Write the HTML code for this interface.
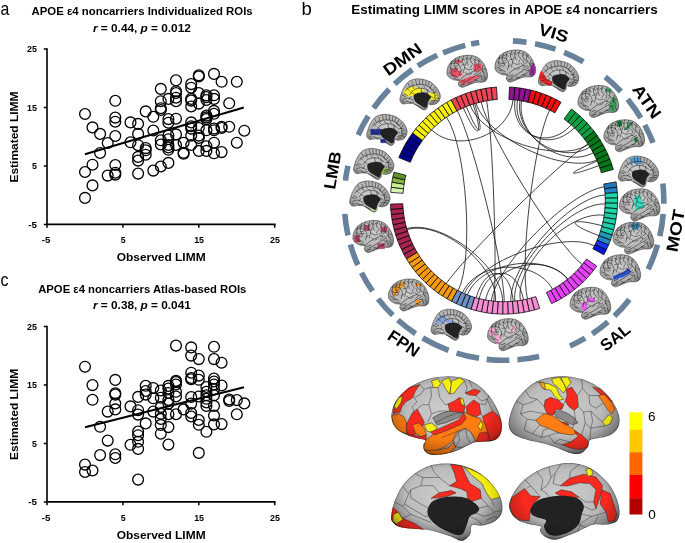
<!DOCTYPE html>
<html><head><meta charset="utf-8"><title>figure</title>
<style>html,body{margin:0;padding:0;background:#fff;}svg{display:block;will-change:transform;}</style>
</head><body>
<svg width="685" height="543" viewBox="0 0 685 543" font-family='"Liberation Sans", sans-serif'>
<rect width="685" height="543" fill="#fff"/>
<path d="M47.0,48.3 V224.4 H275.6" fill="none" stroke="#000" stroke-width="1.6"/>
<text x="36.90" y="52.40" font-size="9.8" font-weight="bold" text-anchor="end" fill="#000" textLength="9.90" lengthAdjust="spacingAndGlyphs">25</text>
<text x="36.90" y="110.87" font-size="9.8" font-weight="bold" text-anchor="end" fill="#000" textLength="9.90" lengthAdjust="spacingAndGlyphs">15</text>
<text x="36.90" y="169.33" font-size="9.8" font-weight="bold" text-anchor="end" fill="#000" textLength="4.90" lengthAdjust="spacingAndGlyphs">5</text>
<text x="36.90" y="227.80" font-size="9.8" font-weight="bold" text-anchor="end" fill="#000" textLength="8.70" lengthAdjust="spacingAndGlyphs">-5</text>
<text x="46.00" y="243.00" font-size="9.8" font-weight="bold" text-anchor="middle" fill="#000" textLength="8.70" lengthAdjust="spacingAndGlyphs">-5</text>
<text x="123.20" y="243.00" font-size="9.8" font-weight="bold" text-anchor="middle" fill="#000" textLength="4.90" lengthAdjust="spacingAndGlyphs">5</text>
<text x="199.10" y="243.00" font-size="9.8" font-weight="bold" text-anchor="middle" fill="#000" textLength="9.90" lengthAdjust="spacingAndGlyphs">15</text>
<text x="275.00" y="243.00" font-size="9.8" font-weight="bold" text-anchor="middle" fill="#000" textLength="9.90" lengthAdjust="spacingAndGlyphs">25</text>
<path d="M43.8,49.0 H47.0 M43.8,107.5 H47.0 M43.8,165.9 H47.0 M43.8,224.4 H47.0 M47.0,224.4 V227.7 M122.9,224.4 V227.7 M198.8,224.4 V227.7 M274.7,224.4 V227.7 " stroke="#000" stroke-width="1.5" fill="none"/>
<text x="116.70" y="261.20" font-size="11.8" font-weight="bold" text-anchor="start" fill="#000" textLength="88.90" lengthAdjust="spacingAndGlyphs">Observed LIMM</text>
<text font-size="11.8" font-weight="bold" text-anchor="middle" textLength="91.0" lengthAdjust="spacingAndGlyphs" transform="translate(18.0 137.0) rotate(-90)">Estimated LIMM</text>
<g fill="none" stroke="#000" stroke-width="1.3">
<circle cx="85.0" cy="114.0" r="5.4"/>
<circle cx="85.0" cy="172.0" r="5.4"/>
<circle cx="85.0" cy="197.9" r="5.4"/>
<circle cx="92.5" cy="127.4" r="5.4"/>
<circle cx="92.5" cy="164.7" r="5.4"/>
<circle cx="92.5" cy="185.4" r="5.4"/>
<circle cx="100.1" cy="133.9" r="5.4"/>
<circle cx="100.1" cy="153.0" r="5.4"/>
<circle cx="107.7" cy="143.0" r="5.4"/>
<circle cx="107.7" cy="175.6" r="5.4"/>
<circle cx="115.3" cy="100.8" r="5.4"/>
<circle cx="115.3" cy="117.6" r="5.4"/>
<circle cx="115.3" cy="121.7" r="5.4"/>
<circle cx="115.3" cy="136.0" r="5.4"/>
<circle cx="115.3" cy="165.0" r="5.4"/>
<circle cx="115.3" cy="172.7" r="5.4"/>
<circle cx="115.3" cy="174.6" r="5.4"/>
<circle cx="130.5" cy="122.4" r="5.4"/>
<circle cx="130.5" cy="142.3" r="5.4"/>
<circle cx="138.1" cy="123.9" r="5.4"/>
<circle cx="138.1" cy="133.9" r="5.4"/>
<circle cx="138.1" cy="145.2" r="5.4"/>
<circle cx="138.1" cy="156.9" r="5.4"/>
<circle cx="138.1" cy="160.6" r="5.4"/>
<circle cx="138.1" cy="173.6" r="5.4"/>
<circle cx="145.7" cy="111.4" r="5.4"/>
<circle cx="145.7" cy="148.1" r="5.4"/>
<circle cx="145.7" cy="150.3" r="5.4"/>
<circle cx="145.7" cy="154.7" r="5.4"/>
<circle cx="153.3" cy="116.8" r="5.4"/>
<circle cx="153.3" cy="130.5" r="5.4"/>
<circle cx="153.3" cy="170.6" r="5.4"/>
<circle cx="160.8" cy="88.9" r="5.4"/>
<circle cx="160.8" cy="101.2" r="5.4"/>
<circle cx="160.8" cy="108.2" r="5.4"/>
<circle cx="160.8" cy="110.0" r="5.4"/>
<circle cx="160.8" cy="140.3" r="5.4"/>
<circle cx="160.8" cy="144.5" r="5.4"/>
<circle cx="160.8" cy="166.5" r="5.4"/>
<circle cx="168.4" cy="98.9" r="5.4"/>
<circle cx="168.4" cy="119.1" r="5.4"/>
<circle cx="168.4" cy="122.7" r="5.4"/>
<circle cx="168.4" cy="135.6" r="5.4"/>
<circle cx="168.4" cy="139.2" r="5.4"/>
<circle cx="168.4" cy="145.0" r="5.4"/>
<circle cx="168.4" cy="147.4" r="5.4"/>
<circle cx="168.4" cy="149.8" r="5.4"/>
<circle cx="168.4" cy="162.9" r="5.4"/>
<circle cx="176.0" cy="80.3" r="5.4"/>
<circle cx="176.0" cy="91.2" r="5.4"/>
<circle cx="176.0" cy="93.0" r="5.4"/>
<circle cx="176.0" cy="97.7" r="5.4"/>
<circle cx="176.0" cy="101.2" r="5.4"/>
<circle cx="176.0" cy="118.7" r="5.4"/>
<circle cx="176.0" cy="134.4" r="5.4"/>
<circle cx="176.0" cy="145.0" r="5.4"/>
<circle cx="183.6" cy="142.7" r="5.4"/>
<circle cx="183.6" cy="152.8" r="5.4"/>
<circle cx="183.6" cy="153.8" r="5.4"/>
<circle cx="191.2" cy="84.1" r="5.4"/>
<circle cx="191.2" cy="87.7" r="5.4"/>
<circle cx="191.2" cy="98.9" r="5.4"/>
<circle cx="191.2" cy="100.6" r="5.4"/>
<circle cx="191.2" cy="106.5" r="5.4"/>
<circle cx="191.2" cy="122.4" r="5.4"/>
<circle cx="191.2" cy="126.2" r="5.4"/>
<circle cx="191.2" cy="128.6" r="5.4"/>
<circle cx="191.2" cy="135.6" r="5.4"/>
<circle cx="191.2" cy="145.0" r="5.4"/>
<circle cx="198.8" cy="75.3" r="5.4"/>
<circle cx="198.8" cy="76.5" r="5.4"/>
<circle cx="198.8" cy="93.0" r="5.4"/>
<circle cx="198.8" cy="103.6" r="5.4"/>
<circle cx="198.8" cy="128.0" r="5.4"/>
<circle cx="198.8" cy="135.6" r="5.4"/>
<circle cx="198.8" cy="138.0" r="5.4"/>
<circle cx="198.8" cy="150.9" r="5.4"/>
<circle cx="206.4" cy="95.3" r="5.4"/>
<circle cx="206.4" cy="97.1" r="5.4"/>
<circle cx="206.4" cy="100.0" r="5.4"/>
<circle cx="206.4" cy="115.6" r="5.4"/>
<circle cx="206.4" cy="117.4" r="5.4"/>
<circle cx="206.4" cy="119.1" r="5.4"/>
<circle cx="206.4" cy="130.3" r="5.4"/>
<circle cx="206.4" cy="146.2" r="5.4"/>
<circle cx="206.4" cy="150.9" r="5.4"/>
<circle cx="214.0" cy="73.9" r="5.4"/>
<circle cx="214.0" cy="95.3" r="5.4"/>
<circle cx="214.0" cy="98.9" r="5.4"/>
<circle cx="214.0" cy="110.9" r="5.4"/>
<circle cx="214.0" cy="113.8" r="5.4"/>
<circle cx="214.0" cy="128.6" r="5.4"/>
<circle cx="214.0" cy="130.3" r="5.4"/>
<circle cx="214.0" cy="142.7" r="5.4"/>
<circle cx="214.0" cy="153.3" r="5.4"/>
<circle cx="221.6" cy="81.8" r="5.4"/>
<circle cx="221.6" cy="126.8" r="5.4"/>
<circle cx="221.6" cy="128.0" r="5.4"/>
<circle cx="221.6" cy="152.1" r="5.4"/>
<circle cx="229.2" cy="103.3" r="5.4"/>
<circle cx="229.2" cy="126.8" r="5.4"/>
<circle cx="236.8" cy="81.8" r="5.4"/>
<circle cx="236.8" cy="142.7" r="5.4"/>
<circle cx="244.3" cy="130.7" r="5.4"/>
</g>
<path d="M84.9,154.3 L243.8,107.6" stroke="#000" stroke-width="2.1" fill="none"/>
<text x="31.50" y="14.60" font-size="11.8" font-weight="bold" text-anchor="start" fill="#000" textLength="221.20" lengthAdjust="spacingAndGlyphs">APOE ε4 noncarriers Individualized ROIs</text>
<text x="93" y="31.5" font-size="11.8" font-weight="bold" textLength="97.8" lengthAdjust="spacingAndGlyphs"><tspan font-style="italic">r</tspan> = 0.44, <tspan font-style="italic">p</tspan> = 0.012</text>
<text x="0.60" y="15.00" font-size="18.5" font-weight="normal" text-anchor="start" fill="#000" textLength="8.80" lengthAdjust="spacingAndGlyphs">a</text>
<path d="M47.0,325.7 V501.9 H275.6" fill="none" stroke="#000" stroke-width="1.6"/>
<text x="36.90" y="329.80" font-size="9.8" font-weight="bold" text-anchor="end" fill="#000" textLength="9.90" lengthAdjust="spacingAndGlyphs">25</text>
<text x="36.90" y="388.30" font-size="9.8" font-weight="bold" text-anchor="end" fill="#000" textLength="9.90" lengthAdjust="spacingAndGlyphs">15</text>
<text x="36.90" y="446.80" font-size="9.8" font-weight="bold" text-anchor="end" fill="#000" textLength="4.90" lengthAdjust="spacingAndGlyphs">5</text>
<text x="36.90" y="505.30" font-size="9.8" font-weight="bold" text-anchor="end" fill="#000" textLength="8.70" lengthAdjust="spacingAndGlyphs">-5</text>
<text x="46.00" y="520.50" font-size="9.8" font-weight="bold" text-anchor="middle" fill="#000" textLength="8.70" lengthAdjust="spacingAndGlyphs">-5</text>
<text x="123.20" y="520.50" font-size="9.8" font-weight="bold" text-anchor="middle" fill="#000" textLength="4.90" lengthAdjust="spacingAndGlyphs">5</text>
<text x="199.10" y="520.50" font-size="9.8" font-weight="bold" text-anchor="middle" fill="#000" textLength="9.90" lengthAdjust="spacingAndGlyphs">15</text>
<text x="275.00" y="520.50" font-size="9.8" font-weight="bold" text-anchor="middle" fill="#000" textLength="9.90" lengthAdjust="spacingAndGlyphs">25</text>
<path d="M43.8,326.4 H47.0 M43.8,384.9 H47.0 M43.8,443.4 H47.0 M43.8,501.9 H47.0 M47.0,501.9 V505.2 M122.9,501.9 V505.2 M198.8,501.9 V505.2 M274.7,501.9 V505.2 " stroke="#000" stroke-width="1.5" fill="none"/>
<text x="116.70" y="538.70" font-size="11.8" font-weight="bold" text-anchor="start" fill="#000" textLength="88.90" lengthAdjust="spacingAndGlyphs">Observed LIMM</text>
<text font-size="11.8" font-weight="bold" text-anchor="middle" textLength="91.0" lengthAdjust="spacingAndGlyphs" transform="translate(18.0 414.4) rotate(-90)">Estimated LIMM</text>
<g fill="none" stroke="#000" stroke-width="1.3">
<circle cx="85.0" cy="366.7" r="5.4"/>
<circle cx="85.0" cy="464.6" r="5.4"/>
<circle cx="85.0" cy="472.0" r="5.4"/>
<circle cx="92.5" cy="385.1" r="5.4"/>
<circle cx="92.5" cy="399.8" r="5.4"/>
<circle cx="92.5" cy="470.5" r="5.4"/>
<circle cx="100.1" cy="426.8" r="5.4"/>
<circle cx="100.1" cy="455.1" r="5.4"/>
<circle cx="107.7" cy="411.6" r="5.4"/>
<circle cx="107.7" cy="440.6" r="5.4"/>
<circle cx="115.3" cy="379.9" r="5.4"/>
<circle cx="115.3" cy="393.2" r="5.4"/>
<circle cx="115.3" cy="394.6" r="5.4"/>
<circle cx="115.3" cy="403.5" r="5.4"/>
<circle cx="115.3" cy="409.4" r="5.4"/>
<circle cx="115.3" cy="454.3" r="5.4"/>
<circle cx="115.3" cy="458.0" r="5.4"/>
<circle cx="130.5" cy="406.4" r="5.4"/>
<circle cx="130.5" cy="444.8" r="5.4"/>
<circle cx="138.1" cy="396.9" r="5.4"/>
<circle cx="138.1" cy="410.2" r="5.4"/>
<circle cx="138.1" cy="414.6" r="5.4"/>
<circle cx="138.1" cy="431.5" r="5.4"/>
<circle cx="138.1" cy="435.2" r="5.4"/>
<circle cx="138.1" cy="441.8" r="5.4"/>
<circle cx="138.1" cy="448.9" r="5.4"/>
<circle cx="138.1" cy="479.6" r="5.4"/>
<circle cx="145.7" cy="385.8" r="5.4"/>
<circle cx="145.7" cy="391.0" r="5.4"/>
<circle cx="145.7" cy="394.6" r="5.4"/>
<circle cx="145.7" cy="423.4" r="5.4"/>
<circle cx="153.3" cy="388.0" r="5.4"/>
<circle cx="153.3" cy="398.3" r="5.4"/>
<circle cx="153.3" cy="411.6" r="5.4"/>
<circle cx="160.8" cy="390.5" r="5.4"/>
<circle cx="160.8" cy="397.7" r="5.4"/>
<circle cx="160.8" cy="407.0" r="5.4"/>
<circle cx="160.8" cy="413.8" r="5.4"/>
<circle cx="160.8" cy="418.9" r="5.4"/>
<circle cx="160.8" cy="424.9" r="5.4"/>
<circle cx="160.8" cy="433.7" r="5.4"/>
<circle cx="168.4" cy="385.9" r="5.4"/>
<circle cx="168.4" cy="388.6" r="5.4"/>
<circle cx="168.4" cy="393.0" r="5.4"/>
<circle cx="168.4" cy="400.0" r="5.4"/>
<circle cx="168.4" cy="403.6" r="5.4"/>
<circle cx="168.4" cy="414.2" r="5.4"/>
<circle cx="168.4" cy="427.1" r="5.4"/>
<circle cx="168.4" cy="444.6" r="5.4"/>
<circle cx="176.0" cy="345.6" r="5.4"/>
<circle cx="176.0" cy="380.9" r="5.4"/>
<circle cx="176.0" cy="382.1" r="5.4"/>
<circle cx="176.0" cy="384.5" r="5.4"/>
<circle cx="176.0" cy="391.8" r="5.4"/>
<circle cx="176.0" cy="396.5" r="5.4"/>
<circle cx="176.0" cy="414.2" r="5.4"/>
<circle cx="183.6" cy="409.4" r="5.4"/>
<circle cx="191.2" cy="347.4" r="5.4"/>
<circle cx="191.2" cy="355.6" r="5.4"/>
<circle cx="191.2" cy="372.7" r="5.4"/>
<circle cx="191.2" cy="378.0" r="5.4"/>
<circle cx="191.2" cy="379.2" r="5.4"/>
<circle cx="191.2" cy="397.0" r="5.4"/>
<circle cx="191.2" cy="403.6" r="5.4"/>
<circle cx="191.2" cy="413.0" r="5.4"/>
<circle cx="191.2" cy="416.5" r="5.4"/>
<circle cx="198.8" cy="359.1" r="5.4"/>
<circle cx="198.8" cy="375.6" r="5.4"/>
<circle cx="198.8" cy="379.8" r="5.4"/>
<circle cx="198.8" cy="396.5" r="5.4"/>
<circle cx="198.8" cy="420.0" r="5.4"/>
<circle cx="198.8" cy="424.8" r="5.4"/>
<circle cx="198.8" cy="452.9" r="5.4"/>
<circle cx="206.4" cy="387.0" r="5.4"/>
<circle cx="206.4" cy="391.8" r="5.4"/>
<circle cx="206.4" cy="395.3" r="5.4"/>
<circle cx="206.4" cy="398.8" r="5.4"/>
<circle cx="206.4" cy="402.4" r="5.4"/>
<circle cx="206.4" cy="405.9" r="5.4"/>
<circle cx="206.4" cy="431.8" r="5.4"/>
<circle cx="214.0" cy="346.8" r="5.4"/>
<circle cx="214.0" cy="359.1" r="5.4"/>
<circle cx="214.0" cy="378.6" r="5.4"/>
<circle cx="214.0" cy="381.5" r="5.4"/>
<circle cx="214.0" cy="384.5" r="5.4"/>
<circle cx="214.0" cy="389.2" r="5.4"/>
<circle cx="214.0" cy="395.3" r="5.4"/>
<circle cx="214.0" cy="405.9" r="5.4"/>
<circle cx="214.0" cy="415.5" r="5.4"/>
<circle cx="214.0" cy="424.4" r="5.4"/>
<circle cx="221.6" cy="362.7" r="5.4"/>
<circle cx="221.6" cy="385.5" r="5.4"/>
<circle cx="221.6" cy="424.1" r="5.4"/>
<circle cx="229.2" cy="399.5" r="5.4"/>
<circle cx="229.2" cy="401.0" r="5.4"/>
<circle cx="236.8" cy="400.1" r="5.4"/>
<circle cx="236.8" cy="414.3" r="5.4"/>
<circle cx="244.3" cy="403.4" r="5.4"/>
</g>
<path d="M85.0,427.3 L244.0,387.2" stroke="#000" stroke-width="2.1" fill="none"/>
<text x="38.20" y="292.50" font-size="11.8" font-weight="bold" text-anchor="start" fill="#000" textLength="208.20" lengthAdjust="spacingAndGlyphs">APOE ε4 noncarriers Atlas-based ROIs</text>
<text x="93" y="308.6" font-size="11.8" font-weight="bold" textLength="97.8" lengthAdjust="spacingAndGlyphs"><tspan font-style="italic">r</tspan> = 0.38, <tspan font-style="italic">p</tspan> = 0.041</text>
<text x="0.60" y="285.80" font-size="18.5" font-weight="normal" text-anchor="start" fill="#000" textLength="8.00" lengthAdjust="spacingAndGlyphs">c</text>
<text x="301.60" y="15.20" font-size="18.5" font-weight="normal" text-anchor="start" fill="#000">b</text>
<text x="351.20" y="13.70" font-size="12.4" font-weight="bold" text-anchor="start" fill="#000" textLength="306.60" lengthAdjust="spacingAndGlyphs">Estimating LIMM scores in APOE ε4 noncarriers</text>
<path d="M345.4,180.7 A159.8,159.8 0 0 1 348.0,165.9 M358.2,135.0 A159.8,159.8 0 0 1 368.3,116.1 M373.6,108.2 A159.8,159.8 0 0 1 389.2,89.3 M394.6,84.0 A159.8,159.8 0 0 1 412.3,69.6 M417.9,65.9 A159.8,159.8 0 0 1 437.2,55.3 M443.1,52.8 A159.8,159.8 0 0 1 465.3,45.4 M471.0,44.1 A159.8,159.8 0 0 1 479.3,42.6 M512.9,40.9 A159.8,159.8 0 0 1 526.5,42.3 M535.0,43.7 A159.8,159.8 0 0 1 555.5,49.2 M564.1,52.4 A159.8,159.8 0 0 1 583.4,61.8 M605.2,76.8 A159.8,159.8 0 0 1 620.9,91.5 M627.7,99.3 A159.8,159.8 0 0 1 640.8,118.0 M644.8,125.0 A159.8,159.8 0 0 1 653.0,142.7 M662.9,183.5 A159.8,159.8 0 0 1 663.8,203.8 M663.2,214.1 A159.8,159.8 0 0 1 659.8,236.2 M657.5,244.8 A159.8,159.8 0 0 1 648.2,269.3 M629.4,299.5 A159.8,159.8 0 0 1 614.4,316.0 M608.0,321.8 A159.8,159.8 0 0 1 592.2,333.8 M585.1,338.2 A159.8,159.8 0 0 1 570.0,346.0 M539.1,356.4 A159.8,159.8 0 0 1 517.4,359.7 M509.3,360.2 A159.8,159.8 0 0 1 486.7,359.4 M479.0,358.3 A159.8,159.8 0 0 1 456.5,353.1 M448.6,350.4 A159.8,159.8 0 0 1 422.7,338.0 M415.6,333.6 A159.8,159.8 0 0 1 397.9,320.0 M392.8,315.3 A159.8,159.8 0 0 1 378.1,298.9 M372.5,291.2 A159.8,159.8 0 0 1 361.5,272.8 M357.8,265.0 A159.8,159.8 0 0 1 350.4,244.5 M348.0,235.4 A159.8,159.8 0 0 1 344.8,213.9 " fill="none" stroke="#68829b" stroke-width="5.6"/>
<g stroke="#000" stroke-width="0.75" stroke-linejoin="miter">
<path d="M509.5,87.0 A113.6,113.6 0 0 1 514.9,87.4 L513.8,99.8 A101.2,101.2 0 0 0 508.9,99.4 Z" fill="#8e1291"/>
<path d="M514.9,87.4 A113.6,113.6 0 0 1 520.3,88.1 L518.5,100.3 A101.2,101.2 0 0 0 513.8,99.8 Z" fill="#8e1291"/>
<path d="M520.3,88.1 A113.6,113.6 0 0 1 525.7,89.0 L523.3,101.2 A101.2,101.2 0 0 0 518.5,100.3 Z" fill="#8e1291"/>
<path d="M525.7,89.0 A113.6,113.6 0 0 1 530.9,90.1 L528.0,102.2 A101.2,101.2 0 0 0 523.3,101.2 Z" fill="#8e1291"/>
<path d="M530.9,90.1 A113.6,113.6 0 0 1 536.2,91.5 L532.7,103.4 A101.2,101.2 0 0 0 528.0,102.2 Z" fill="#f20d0d"/>
<path d="M536.2,91.5 A113.6,113.6 0 0 1 541.3,93.2 L537.2,104.9 A101.2,101.2 0 0 0 532.7,103.4 Z" fill="#f20d0d"/>
<path d="M541.3,93.2 A113.6,113.6 0 0 1 546.4,95.1 L541.8,106.6 A101.2,101.2 0 0 0 537.2,104.9 Z" fill="#f20d0d"/>
<path d="M546.4,95.1 A113.6,113.6 0 0 1 551.4,97.2 L546.2,108.5 A101.2,101.2 0 0 0 541.8,106.6 Z" fill="#f20d0d"/>
<path d="M551.4,97.2 A113.6,113.6 0 0 1 556.2,99.6 L550.5,110.6 A101.2,101.2 0 0 0 546.2,108.5 Z" fill="#f20d0d"/>
<path d="M556.2,99.6 A113.6,113.6 0 0 1 561.0,102.2 L554.8,112.9 A101.2,101.2 0 0 0 550.5,110.6 Z" fill="#f20d0d"/>
<path d="M571.4,109.1 A113.6,113.6 0 0 1 575.6,112.3 L567.8,122.0 A101.2,101.2 0 0 0 564.1,119.0 Z" fill="#0f9d42"/>
<path d="M575.6,112.3 A113.6,113.6 0 0 1 579.7,115.8 L571.4,125.0 A101.2,101.2 0 0 0 567.8,122.0 Z" fill="#0f9d42"/>
<path d="M579.7,115.8 A113.6,113.6 0 0 1 583.6,119.4 L574.9,128.3 A101.2,101.2 0 0 0 571.4,125.0 Z" fill="#0f9d42"/>
<path d="M583.6,119.4 A113.6,113.6 0 0 1 587.3,123.3 L578.2,131.7 A101.2,101.2 0 0 0 574.9,128.3 Z" fill="#0f9d42"/>
<path d="M587.3,123.3 A113.6,113.6 0 0 1 590.8,127.3 L581.4,135.3 A101.2,101.2 0 0 0 578.2,131.7 Z" fill="#0f9d42"/>
<path d="M590.8,127.3 A113.6,113.6 0 0 1 594.2,131.4 L584.3,139.0 A101.2,101.2 0 0 0 581.4,135.3 Z" fill="#0f9d42"/>
<path d="M594.2,131.4 A113.6,113.6 0 0 1 597.3,135.7 L587.2,142.8 A101.2,101.2 0 0 0 584.3,139.0 Z" fill="#067a18"/>
<path d="M597.3,135.7 A113.6,113.6 0 0 1 600.3,140.2 L589.8,146.8 A101.2,101.2 0 0 0 587.2,142.8 Z" fill="#067a18"/>
<path d="M600.3,140.2 A113.6,113.6 0 0 1 603.0,144.8 L592.2,150.9 A101.2,101.2 0 0 0 589.8,146.8 Z" fill="#067a18"/>
<path d="M603.0,144.8 A113.6,113.6 0 0 1 605.5,149.5 L594.4,155.1 A101.2,101.2 0 0 0 592.2,150.9 Z" fill="#067a18"/>
<path d="M605.5,149.5 A113.6,113.6 0 0 1 607.8,154.3 L596.5,159.4 A101.2,101.2 0 0 0 594.4,155.1 Z" fill="#067a18"/>
<path d="M607.8,154.3 A113.6,113.6 0 0 1 609.9,159.3 L598.3,163.8 A101.2,101.2 0 0 0 596.5,159.4 Z" fill="#067a18"/>
<path d="M609.9,159.3 A113.6,113.6 0 0 1 611.7,164.3 L599.9,168.2 A101.2,101.2 0 0 0 598.3,163.8 Z" fill="#067a18"/>
<path d="M611.7,164.3 A113.6,113.6 0 0 1 613.3,169.4 L601.3,172.8 A101.2,101.2 0 0 0 599.9,168.2 Z" fill="#067a18"/>
<path d="M616.1,181.9 A113.6,113.6 0 0 1 616.8,187.3 L604.5,188.7 A101.2,101.2 0 0 0 603.8,184.0 Z" fill="#2078bf"/>
<path d="M616.8,187.3 A113.6,113.6 0 0 1 617.3,192.6 L605.0,193.5 A101.2,101.2 0 0 0 604.5,188.7 Z" fill="#2584c8"/>
<path d="M617.3,192.6 A113.6,113.6 0 0 1 617.6,198.0 L605.2,198.2 A101.2,101.2 0 0 0 605.0,193.5 Z" fill="#1fd6ab"/>
<path d="M617.6,198.0 A113.6,113.6 0 0 1 617.6,203.3 L605.2,203.0 A101.2,101.2 0 0 0 605.2,198.2 Z" fill="#1fd6ab"/>
<path d="M617.6,203.3 A113.6,113.6 0 0 1 617.3,208.7 L604.9,207.8 A101.2,101.2 0 0 0 605.2,203.0 Z" fill="#1fd6ab"/>
<path d="M617.3,208.7 A113.6,113.6 0 0 1 616.8,214.0 L604.5,212.6 A101.2,101.2 0 0 0 604.9,207.8 Z" fill="#1fd6ab"/>
<path d="M616.8,214.0 A113.6,113.6 0 0 1 616.0,219.3 L603.8,217.3 A101.2,101.2 0 0 0 604.5,212.6 Z" fill="#1ccfa6"/>
<path d="M616.0,219.3 A113.6,113.6 0 0 1 615.0,224.6 L602.9,222.0 A101.2,101.2 0 0 0 603.8,217.3 Z" fill="#1ccfa6"/>
<path d="M615.0,224.6 A113.6,113.6 0 0 1 613.7,229.8 L601.8,226.6 A101.2,101.2 0 0 0 602.9,222.0 Z" fill="#1ccfa6"/>
<path d="M613.7,229.8 A113.6,113.6 0 0 1 612.2,235.0 L600.4,231.2 A101.2,101.2 0 0 0 601.8,226.6 Z" fill="#1ccfa6"/>
<path d="M612.2,235.0 A113.6,113.6 0 0 1 610.5,240.1 L598.9,235.7 A101.2,101.2 0 0 0 600.4,231.2 Z" fill="#1f9bb5"/>
<path d="M610.5,240.1 A113.6,113.6 0 0 1 608.5,245.0 L597.1,240.2 A101.2,101.2 0 0 0 598.9,235.7 Z" fill="#2389c2"/>
<path d="M608.5,245.0 A113.6,113.6 0 0 1 606.3,249.9 L595.1,244.5 A101.2,101.2 0 0 0 597.1,240.2 Z" fill="#1638f2"/>
<path d="M606.3,249.9 A113.6,113.6 0 0 1 603.8,254.7 L592.9,248.8 A101.2,101.2 0 0 0 595.1,244.5 Z" fill="#0414e4"/>
<path d="M596.7,266.1 A113.6,113.6 0 0 1 593.5,270.5 L583.7,262.8 A101.2,101.2 0 0 0 586.6,259.0 Z" fill="#e641f5"/>
<path d="M593.5,270.5 A113.6,113.6 0 0 1 590.1,274.6 L580.7,266.5 A101.2,101.2 0 0 0 583.7,262.8 Z" fill="#e641f5"/>
<path d="M590.1,274.6 A113.6,113.6 0 0 1 586.5,278.6 L577.5,270.1 A101.2,101.2 0 0 0 580.7,266.5 Z" fill="#e641f5"/>
<path d="M586.5,278.6 A113.6,113.6 0 0 1 582.7,282.5 L574.1,273.5 A101.2,101.2 0 0 0 577.5,270.1 Z" fill="#e641f5"/>
<path d="M582.7,282.5 A113.6,113.6 0 0 1 578.7,286.1 L570.5,276.8 A101.2,101.2 0 0 0 574.1,273.5 Z" fill="#e641f5"/>
<path d="M578.7,286.1 A113.6,113.6 0 0 1 574.5,289.5 L566.8,279.8 A101.2,101.2 0 0 0 570.5,276.8 Z" fill="#e641f5"/>
<path d="M574.5,289.5 A113.6,113.6 0 0 1 570.2,292.8 L563.0,282.7 A101.2,101.2 0 0 0 566.8,279.8 Z" fill="#e641f5"/>
<path d="M570.2,292.8 A113.6,113.6 0 0 1 565.8,295.8 L559.1,285.4 A101.2,101.2 0 0 0 563.0,282.7 Z" fill="#e641f5"/>
<path d="M565.8,295.8 A113.6,113.6 0 0 1 561.2,298.6 L555.0,287.9 A101.2,101.2 0 0 0 559.1,285.4 Z" fill="#e641f5"/>
<path d="M561.2,298.6 A113.6,113.6 0 0 1 556.5,301.2 L550.8,290.3 A101.2,101.2 0 0 0 555.0,287.9 Z" fill="#e641f5"/>
<path d="M556.5,301.2 A113.6,113.6 0 0 1 551.6,303.6 L546.4,292.4 A101.2,101.2 0 0 0 550.8,290.3 Z" fill="#e641f5"/>
<path d="M539.7,308.4 A113.6,113.6 0 0 1 534.5,309.9 L531.2,298.0 A101.2,101.2 0 0 0 535.8,296.6 Z" fill="#f58ed2"/>
<path d="M534.5,309.9 A113.6,113.6 0 0 1 529.3,311.2 L526.6,299.2 A101.2,101.2 0 0 0 531.2,298.0 Z" fill="#f58ed2"/>
<path d="M529.3,311.2 A113.6,113.6 0 0 1 524.1,312.3 L521.9,300.1 A101.2,101.2 0 0 0 526.6,299.2 Z" fill="#f58ed2"/>
<path d="M524.1,312.3 A113.6,113.6 0 0 1 518.8,313.1 L517.2,300.8 A101.2,101.2 0 0 0 521.9,300.1 Z" fill="#f58ed2"/>
<path d="M518.8,313.1 A113.6,113.6 0 0 1 513.4,313.7 L512.4,301.4 A101.2,101.2 0 0 0 517.2,300.8 Z" fill="#f58ed2"/>
<path d="M513.4,313.7 A113.6,113.6 0 0 1 508.1,314.0 L507.6,301.6 A101.2,101.2 0 0 0 512.4,301.4 Z" fill="#f58ed2"/>
<path d="M508.1,314.0 A113.6,113.6 0 0 1 502.7,314.1 L502.8,301.7 A101.2,101.2 0 0 0 507.6,301.6 Z" fill="#f58ed2"/>
<path d="M502.7,314.1 A113.6,113.6 0 0 1 497.3,313.9 L498.1,301.5 A101.2,101.2 0 0 0 502.8,301.7 Z" fill="#f58ed2"/>
<path d="M497.3,313.9 A113.6,113.6 0 0 1 492.0,313.5 L493.3,301.1 A101.2,101.2 0 0 0 498.1,301.5 Z" fill="#f58ed2"/>
<path d="M492.0,313.5 A113.6,113.6 0 0 1 486.7,312.8 L488.6,300.5 A101.2,101.2 0 0 0 493.3,301.1 Z" fill="#f58ed2"/>
<path d="M486.7,312.8 A113.6,113.6 0 0 1 481.4,311.8 L483.9,299.7 A101.2,101.2 0 0 0 488.6,300.5 Z" fill="#f58ed2"/>
<path d="M481.4,311.8 A113.6,113.6 0 0 1 476.1,310.6 L479.2,298.6 A101.2,101.2 0 0 0 483.9,299.7 Z" fill="#f58ed2"/>
<path d="M476.1,310.6 A113.6,113.6 0 0 1 471.0,309.2 L474.6,297.3 A101.2,101.2 0 0 0 479.2,298.6 Z" fill="#f58ed2"/>
<path d="M471.0,309.2 A113.6,113.6 0 0 1 466.0,307.6 L470.1,295.9 A101.2,101.2 0 0 0 474.6,297.3 Z" fill="#6d8fc4"/>
<path d="M466.0,307.6 A113.6,113.6 0 0 1 461.1,305.7 L465.8,294.2 A101.2,101.2 0 0 0 470.1,295.9 Z" fill="#6d8fc4"/>
<path d="M461.1,305.7 A113.6,113.6 0 0 1 456.3,303.6 L461.5,292.3 A101.2,101.2 0 0 0 465.8,294.2 Z" fill="#6d8fc4"/>
<path d="M456.3,303.6 A113.6,113.6 0 0 1 451.5,301.3 L457.3,290.3 A101.2,101.2 0 0 0 461.5,292.3 Z" fill="#6d8fc4"/>
<path d="M451.5,301.3 A113.6,113.6 0 0 1 447.0,298.7 L453.2,288.0 A101.2,101.2 0 0 0 457.3,290.3 Z" fill="#f59a12"/>
<path d="M447.0,298.7 A113.6,113.6 0 0 1 442.5,296.0 L449.2,285.6 A101.2,101.2 0 0 0 453.2,288.0 Z" fill="#f59a12"/>
<path d="M442.5,296.0 A113.6,113.6 0 0 1 438.2,293.1 L445.3,283.0 A101.2,101.2 0 0 0 449.2,285.6 Z" fill="#f59a12"/>
<path d="M438.2,293.1 A113.6,113.6 0 0 1 434.0,289.9 L441.6,280.2 A101.2,101.2 0 0 0 445.3,283.0 Z" fill="#f59a12"/>
<path d="M434.0,289.9 A113.6,113.6 0 0 1 429.9,286.6 L438.0,277.2 A101.2,101.2 0 0 0 441.6,280.2 Z" fill="#f59a12"/>
<path d="M429.9,286.6 A113.6,113.6 0 0 1 426.0,283.1 L434.5,274.1 A101.2,101.2 0 0 0 438.0,277.2 Z" fill="#f59a12"/>
<path d="M426.0,283.1 A113.6,113.6 0 0 1 422.3,279.4 L431.2,270.8 A101.2,101.2 0 0 0 434.5,274.1 Z" fill="#f59a12"/>
<path d="M422.3,279.4 A113.6,113.6 0 0 1 418.7,275.6 L428.0,267.4 A101.2,101.2 0 0 0 431.2,270.8 Z" fill="#f59a12"/>
<path d="M418.7,275.6 A113.6,113.6 0 0 1 415.4,271.6 L425.0,263.8 A101.2,101.2 0 0 0 428.0,267.4 Z" fill="#f59a12"/>
<path d="M415.4,271.6 A113.6,113.6 0 0 1 412.2,267.4 L422.2,260.1 A101.2,101.2 0 0 0 425.0,263.8 Z" fill="#f59a12"/>
<path d="M412.2,267.4 A113.6,113.6 0 0 1 409.2,263.1 L419.6,256.3 A101.2,101.2 0 0 0 422.2,260.1 Z" fill="#f59a12"/>
<path d="M409.2,263.1 A113.6,113.6 0 0 1 406.4,258.7 L417.1,252.3 A101.2,101.2 0 0 0 419.6,256.3 Z" fill="#f59a12"/>
<path d="M406.4,258.7 A113.6,113.6 0 0 1 403.8,254.1 L414.8,248.3 A101.2,101.2 0 0 0 417.1,252.3 Z" fill="#a8254d"/>
<path d="M403.8,254.1 A113.6,113.6 0 0 1 401.5,249.5 L412.7,244.1 A101.2,101.2 0 0 0 414.8,248.3 Z" fill="#a8254d"/>
<path d="M401.5,249.5 A113.6,113.6 0 0 1 399.3,244.7 L410.8,239.9 A101.2,101.2 0 0 0 412.7,244.1 Z" fill="#a8254d"/>
<path d="M399.3,244.7 A113.6,113.6 0 0 1 397.4,239.8 L409.1,235.5 A101.2,101.2 0 0 0 410.8,239.9 Z" fill="#a8254d"/>
<path d="M397.4,239.8 A113.6,113.6 0 0 1 395.7,234.9 L407.5,231.1 A101.2,101.2 0 0 0 409.1,235.5 Z" fill="#a8254d"/>
<path d="M395.7,234.9 A113.6,113.6 0 0 1 394.3,229.9 L406.2,226.7 A101.2,101.2 0 0 0 407.5,231.1 Z" fill="#a8254d"/>
<path d="M394.3,229.9 A113.6,113.6 0 0 1 393.0,224.8 L405.1,222.1 A101.2,101.2 0 0 0 406.2,226.7 Z" fill="#a8254d"/>
<path d="M393.0,224.8 A113.6,113.6 0 0 1 392.0,219.7 L404.2,217.6 A101.2,101.2 0 0 0 405.1,222.1 Z" fill="#a8254d"/>
<path d="M392.0,219.7 A113.6,113.6 0 0 1 391.3,214.5 L403.6,213.0 A101.2,101.2 0 0 0 404.2,217.6 Z" fill="#a8254d"/>
<path d="M391.3,214.5 A113.6,113.6 0 0 1 390.7,209.3 L403.1,208.3 A101.2,101.2 0 0 0 403.6,213.0 Z" fill="#a8254d"/>
<path d="M390.7,209.3 A113.6,113.6 0 0 1 390.5,204.1 L402.8,203.7 A101.2,101.2 0 0 0 403.1,208.3 Z" fill="#a8254d"/>
<path d="M390.7,192.4 A113.6,113.6 0 0 1 391.2,187.3 L403.5,188.7 A101.2,101.2 0 0 0 403.1,193.3 Z" fill="#d6f5b0"/>
<path d="M391.2,187.3 A113.6,113.6 0 0 1 391.9,182.2 L404.1,184.2 A101.2,101.2 0 0 0 403.5,188.7 Z" fill="#c8f09a"/>
<path d="M391.9,182.2 A113.6,113.6 0 0 1 392.8,177.2 L404.9,179.8 A101.2,101.2 0 0 0 404.1,184.2 Z" fill="#86b542"/>
<path d="M392.8,177.2 A113.6,113.6 0 0 1 394.0,172.2 L406.0,175.3 A101.2,101.2 0 0 0 404.9,179.8 Z" fill="#5f9426"/>
<path d="M398.8,157.6 A113.6,113.6 0 0 1 401.1,152.4 L412.3,157.7 A101.2,101.2 0 0 0 410.3,162.3 Z" fill="#00008e"/>
<path d="M401.1,152.4 A113.6,113.6 0 0 1 403.6,147.4 L414.5,153.2 A101.2,101.2 0 0 0 412.3,157.7 Z" fill="#00008e"/>
<path d="M403.6,147.4 A113.6,113.6 0 0 1 406.3,142.5 L417.0,148.8 A101.2,101.2 0 0 0 414.5,153.2 Z" fill="#00008e"/>
<path d="M406.3,142.5 A113.6,113.6 0 0 1 409.3,137.7 L419.7,144.6 A101.2,101.2 0 0 0 417.0,148.8 Z" fill="#00008e"/>
<path d="M409.3,137.7 A113.6,113.6 0 0 1 412.6,133.1 L422.5,140.4 A101.2,101.2 0 0 0 419.7,144.6 Z" fill="#00008e"/>
<path d="M412.6,133.1 A113.6,113.6 0 0 1 415.7,129.0 L425.3,136.8 A101.2,101.2 0 0 0 422.5,140.4 Z" fill="#f7f00a"/>
<path d="M415.7,129.0 A113.6,113.6 0 0 1 419.0,125.1 L428.3,133.3 A101.2,101.2 0 0 0 425.3,136.8 Z" fill="#f7f00a"/>
<path d="M419.0,125.1 A113.6,113.6 0 0 1 422.5,121.3 L431.4,130.0 A101.2,101.2 0 0 0 428.3,133.3 Z" fill="#f7f00a"/>
<path d="M422.5,121.3 A113.6,113.6 0 0 1 426.2,117.7 L434.7,126.8 A101.2,101.2 0 0 0 431.4,130.0 Z" fill="#f7f00a"/>
<path d="M426.2,117.7 A113.6,113.6 0 0 1 430.0,114.3 L438.1,123.7 A101.2,101.2 0 0 0 434.7,126.8 Z" fill="#f7f00a"/>
<path d="M430.0,114.3 A113.6,113.6 0 0 1 434.0,111.1 L441.6,120.8 A101.2,101.2 0 0 0 438.1,123.7 Z" fill="#f7f00a"/>
<path d="M434.0,111.1 A113.6,113.6 0 0 1 438.1,108.0 L445.3,118.1 A101.2,101.2 0 0 0 441.6,120.8 Z" fill="#f7f00a"/>
<path d="M438.1,108.0 A113.6,113.6 0 0 1 442.3,105.1 L449.1,115.5 A101.2,101.2 0 0 0 445.3,118.1 Z" fill="#f7f00a"/>
<path d="M442.3,105.1 A113.6,113.6 0 0 1 446.7,102.4 L453.0,113.1 A101.2,101.2 0 0 0 449.1,115.5 Z" fill="#f7f00a"/>
<path d="M446.7,102.4 A113.6,113.6 0 0 1 451.2,99.9 L457.0,110.9 A101.2,101.2 0 0 0 453.0,113.1 Z" fill="#f7f00a"/>
<path d="M451.2,99.9 A113.6,113.6 0 0 1 455.9,97.6 L461.2,108.8 A101.2,101.2 0 0 0 457.0,110.9 Z" fill="#ea4658"/>
<path d="M455.9,97.6 A113.6,113.6 0 0 1 460.7,95.5 L465.5,106.9 A101.2,101.2 0 0 0 461.2,108.8 Z" fill="#ea4658"/>
<path d="M460.7,95.5 A113.6,113.6 0 0 1 465.6,93.6 L469.8,105.2 A101.2,101.2 0 0 0 465.5,106.9 Z" fill="#ea4658"/>
<path d="M465.6,93.6 A113.6,113.6 0 0 1 470.6,91.9 L474.3,103.8 A101.2,101.2 0 0 0 469.8,105.2 Z" fill="#ea4658"/>
<path d="M470.6,91.9 A113.6,113.6 0 0 1 475.7,90.5 L478.8,102.5 A101.2,101.2 0 0 0 474.3,103.8 Z" fill="#ea4658"/>
<path d="M475.7,90.5 A113.6,113.6 0 0 1 480.8,89.3 L483.4,101.4 A101.2,101.2 0 0 0 478.8,102.5 Z" fill="#ea4658"/>
<path d="M480.8,89.3 A113.6,113.6 0 0 1 486.0,88.3 L488.0,100.6 A101.2,101.2 0 0 0 483.4,101.4 Z" fill="#ea4658"/>
<path d="M486.0,88.3 A113.6,113.6 0 0 1 491.2,87.6 L492.6,99.9 A101.2,101.2 0 0 0 488.0,100.6 Z" fill="#ea4658"/>
<path d="M491.2,87.6 A113.6,113.6 0 0 1 496.5,87.1 L497.3,99.5 A101.2,101.2 0 0 0 492.6,99.9 Z" fill="#ea4658"/>
</g>
<path d="M431.6,129.8 C456.9,154.6 509.8,135.0 513.0,99.7 M446.5,117.2 C466.6,146.4 474.1,259.1 458.1,290.7 M457.3,110.7 C473.6,142.2 504.1,266.3 504.2,301.7 M463.3,107.8 C477.6,140.3 483.9,137.9 473.1,104.1 M466.4,106.5 C479.6,139.4 485.0,137.5 474.7,103.6 M481.1,101.9 C489.1,136.4 554.8,242.3 582.2,264.7 M486.6,100.8 C492.7,135.7 497.4,265.9 493.8,301.2 M514.9,99.9 C511.1,135.1 547.7,151.3 571.2,124.8 M517.4,100.2 C512.7,135.3 549.7,153.2 574.3,127.7 M520.0,100.6 C514.4,135.5 559.8,165.7 589.9,147.0 M521.6,100.8 C515.4,135.7 562.0,169.5 593.3,152.8 M470.2,105.1 C482.0,138.5 558.8,164.1 588.3,144.5 M476.1,103.2 C485.9,137.3 564.3,174.3 596.8,160.1 M597.2,161.0 C564.6,174.8 565.7,177.8 599.0,165.6 M549.6,110.2 C533.7,141.8 519.2,264.5 527.5,298.9 M587.9,143.9 C558.5,163.7 466.5,254.5 446.2,283.6 M604.3,186.8 C569.2,191.6 495.8,265.8 491.3,300.9 M605.1,195.0 C569.7,196.9 508.5,266.1 510.9,301.5 M605.1,203.9 C569.7,202.7 511.0,265.9 514.8,301.1 M604.1,215.3 C569.1,210.1 514.6,265.4 520.4,300.4 M602.0,225.7 C567.7,216.9 565.7,223.3 598.9,235.6 M594.5,245.8 C562.8,230.0 478.2,261.0 464.3,293.6 M552.6,289.3 C535.6,258.2 477.0,260.5 462.5,292.8 M407.1,229.6 C441.0,219.4 498.4,266.0 495.4,301.3 M406.8,228.6 C440.8,218.7 503.1,266.3 502.6,301.7 M479.2,298.6 C487.9,264.3 516.7,265.0 523.5,299.8 M567.7,279.1 C545.4,251.6 480.2,261.8 467.4,294.9 M567.7,279.1 C545.4,251.6 492.0,265.2 485.6,300.0 M513.2,301.3 C510.0,266.0 485.9,263.7 476.1,297.8 " fill="none" stroke="#111" stroke-width="0.8"/>
<text font-size="16.5" font-weight="bold" text-anchor="middle" textLength="43.0" lengthAdjust="spacingAndGlyphs" transform="translate(402.3 59.1) rotate(-35.5)" y="5.9">DMN</text>
<text font-size="16.5" font-weight="bold" text-anchor="middle" textLength="30.0" lengthAdjust="spacingAndGlyphs" transform="translate(553.6 32.8) rotate(16.5)" y="5.9">VIS</text>
<text font-size="16.5" font-weight="bold" text-anchor="middle" textLength="37.5" lengthAdjust="spacingAndGlyphs" transform="translate(647.0 101.3) rotate(55.3)" y="5.9">ATN</text>
<text font-size="16.5" font-weight="bold" text-anchor="middle" textLength="42.8" lengthAdjust="spacingAndGlyphs" transform="translate(675.3 230.6) rotate(-79.5)" y="5.9">MOT</text>
<text font-size="16.5" font-weight="bold" text-anchor="middle" textLength="33.2" lengthAdjust="spacingAndGlyphs" transform="translate(615.1 337.1) rotate(-38.8)" y="5.9">SAL</text>
<text font-size="16.5" font-weight="bold" text-anchor="middle" textLength="34.5" lengthAdjust="spacingAndGlyphs" transform="translate(403.8 343.2) rotate(34)" y="5.9">FPN</text>
<text font-size="16.5" font-weight="bold" text-anchor="middle" textLength="38.2" lengthAdjust="spacingAndGlyphs" transform="translate(332.4 170.3) rotate(-80.3)" y="5.9">LMB</text>
<defs>
<radialGradient id="bg" cx="0.48" cy="0.42" r="0.62">
<stop offset="0" stop-color="#cacaca"/><stop offset="0.6" stop-color="#b6b6b6"/><stop offset="0.88" stop-color="#8c8c8c"/><stop offset="1" stop-color="#5a5a5a"/>
</radialGradient>
<radialGradient id="bg2" cx="0.48" cy="0.42" r="0.62">
<stop offset="0" stop-color="#cdcdcd"/><stop offset="0.55" stop-color="#bcbcbc"/><stop offset="0.85" stop-color="#9a9a9a"/><stop offset="1" stop-color="#6a6a6a"/>
</radialGradient>
<radialGradient id="shade" cx="0.5" cy="0.42" r="0.6">
<stop offset="0" stop-color="#000" stop-opacity="0"/><stop offset="0.62" stop-color="#000" stop-opacity="0"/><stop offset="0.9" stop-color="#000" stop-opacity="0.22"/><stop offset="1" stop-color="#000" stop-opacity="0.45"/>
</radialGradient>
</defs>
<defs>
<path id="latf" d="M0.00,17.30 C0.05,15.83 0.23,13.37 1.10,11.40 C1.97,9.43 3.42,7.15 5.20,5.50 C6.98,3.85 9.35,2.42 11.80,1.50 C14.25,0.58 17.32,0.13 19.90,0.00 C22.48,-0.13 25.08,0.03 27.30,0.70 C29.52,1.37 31.48,2.47 33.20,4.00 C34.92,5.53 36.43,7.80 37.60,9.90 C38.77,12.00 39.72,14.63 40.20,16.60 C40.68,18.57 40.70,20.23 40.50,21.70 C40.30,23.17 39.85,24.53 39.00,25.40 C38.15,26.27 36.87,26.65 35.40,26.90 C33.93,27.15 31.92,26.67 30.20,26.90 C28.48,27.13 26.82,27.70 25.10,28.30 C23.38,28.90 21.50,29.88 19.90,30.50 C18.30,31.12 16.78,32.00 15.50,32.00 C14.22,32.00 12.88,31.23 12.20,30.50 C11.52,29.77 11.40,28.45 11.40,27.60 C11.40,26.75 12.87,25.88 12.20,25.40 C11.53,24.92 8.93,25.20 7.40,24.70 C5.87,24.20 4.10,23.15 3.00,22.40 C1.90,21.65 1.30,21.05 0.80,20.20 C0.30,19.35 -0.05,18.77 0.00,17.30 Z" fill="url(#bg)" stroke="#3a3a3a" stroke-width="0.6"/>
<path id="lats" d="M5.17,5.51 C4.93,6.61 3.70,10.17 3.70,12.14 C3.70,14.10 4.93,16.43 5.17,17.29  M8.85,3.30 C8.61,4.40 7.14,7.84 7.38,9.93 C7.63,12.01 9.84,14.84 10.33,15.82  M12.54,1.83 C12.29,2.81 10.82,5.75 11.06,7.72 C11.31,9.68 13.76,11.65 14.01,13.61 C14.25,15.57 12.78,18.52 12.54,19.50  M16.95,1.09 C16.71,1.95 15.36,4.53 15.48,6.25 C15.60,7.96 17.57,9.56 17.69,11.40 C17.81,13.24 16.46,16.31 16.22,17.29  M20.64,0.35 C20.51,1.21 19.78,3.91 19.90,5.51 C20.02,7.10 21.13,9.19 21.37,9.93  M25.06,0.72 C24.81,1.52 23.34,4.10 23.58,5.51 C23.83,6.92 26.04,8.58 26.53,9.19  M28.74,2.56 C28.61,3.30 27.63,5.63 28.00,6.98 C28.37,8.33 30.46,10.05 30.95,10.66  M32.42,4.77 C32.30,5.63 31.31,8.45 31.68,9.93 C32.05,11.40 34.14,13.00 34.63,13.61  M36.10,9.93 C35.98,10.79 35.12,13.61 35.36,15.08 C35.61,16.55 37.21,18.15 37.57,18.76  M12.17,25.39 C12.97,24.66 15.05,22.32 16.95,20.97 C18.86,19.62 21.50,18.27 23.58,17.29 C25.67,16.31 28.49,15.45 29.47,15.08  M16.22,27.60 C17.32,26.99 20.76,25.15 22.85,23.92 C24.93,22.69 26.90,21.34 28.74,20.24 C30.58,19.13 33.03,17.78 33.89,17.29  M19.90,29.81 C21.01,29.20 24.44,27.36 26.53,26.13 C28.61,24.90 31.44,23.06 32.42,22.45  M2.23,17.29 C2.96,17.66 5.30,18.76 6.65,19.50 C8.00,20.24 9.71,21.34 10.33,21.71  M2.96,12.14 C3.58,12.38 5.30,13.49 6.65,13.61 C8.00,13.73 10.33,13.00 11.06,12.87  M3.70,8.45 C4.44,8.33 6.77,7.60 8.12,7.72 C9.47,7.84 11.19,8.95 11.80,9.19  M36.84,20.24 C37.08,20.85 38.06,23.31 38.31,23.92  M33.89,19.50 C34.14,20.36 35.12,23.80 35.36,24.66  M26.53,13.61 C27.14,14.10 29.23,16.19 30.21,16.55 C31.19,16.92 32.05,15.94 32.42,15.82  M17.69,12.14 C18.30,12.50 20.15,14.10 21.37,14.35 C22.60,14.59 24.44,13.73 25.06,13.61  M7.38,23.18 C8.12,23.37 11.06,24.10 11.80,24.29  M14.01,29.81 C14.62,29.63 17.08,28.89 17.69,28.71  M23.58,12.14 C23.83,11.77 24.81,10.30 25.06,9.93  M30.21,4.04 C30.82,4.65 33.28,7.10 33.89,7.72  M6.65,6.25 C7.14,6.12 9.10,5.63 9.59,5.51  M10.33,4.04 C10.82,4.40 12.78,5.88 13.27,6.25  M14.75,3.30 C15.24,3.55 17.20,4.53 17.69,4.77  M18.43,2.56 C18.86,2.81 20.58,3.79 21.01,4.04  M22.11,3.30 C22.48,3.18 23.95,2.69 24.32,2.56  M26.53,3.30 C26.90,3.67 28.37,5.14 28.74,5.51  M5.91,15.08 C6.40,15.33 8.36,16.31 8.85,16.55  M8.12,11.40 C8.49,11.28 9.96,10.79 10.33,10.66  M13.27,16.55 C13.64,16.31 15.11,15.33 15.48,15.08  M18.43,17.29 C18.80,17.66 20.27,19.13 20.64,19.50  M22.11,19.50 C22.60,19.25 24.56,18.27 25.06,18.03  M27.26,19.50 C27.63,19.13 29.11,17.66 29.47,17.29  M30.95,20.24 C31.44,20.36 33.40,20.85 33.89,20.97  M34.63,15.08 C35.00,15.33 36.47,16.31 36.84,16.55  M36.84,13.61 C37.21,13.73 38.68,14.22 39.05,14.35  M21.37,26.86 C21.86,27.05 23.83,27.78 24.32,27.97  M28.00,24.66 C28.49,24.78 30.46,25.27 30.95,25.39  M14.01,26.13 C14.62,25.88 17.08,24.90 17.69,24.66  M4.44,20.24 C4.93,20.36 6.89,20.85 7.38,20.97  M19.16,6.98 C19.04,7.47 18.55,9.44 18.43,9.93  M28.00,9.93 C28.12,10.42 28.61,12.38 28.74,12.87  M32.42,11.40 C32.05,11.77 30.58,13.24 30.21,13.61  M14.75,9.93 C15.11,9.80 16.59,9.31 16.95,9.19 " fill="none" stroke="#1e1e1e" stroke-width="0.7" stroke-linecap="round" opacity="0.8"/>
<path id="medf" d="M0.00,19.10 C0.43,17.02 1.65,13.00 3.00,10.30 C4.35,7.60 6.02,4.62 8.10,2.90 C10.18,1.18 13.03,0.42 15.50,0.00 C17.97,-0.42 20.45,-0.08 22.90,0.40 C25.35,0.88 28.00,1.62 30.20,2.90 C32.40,4.18 34.50,6.13 36.10,8.10 C37.70,10.07 39.18,12.73 39.80,14.70 C40.42,16.67 40.28,18.30 39.80,19.90 C39.32,21.50 38.25,23.32 36.90,24.30 C35.55,25.28 33.18,25.68 31.70,25.80 C30.22,25.92 28.73,24.52 28.00,25.00 C27.27,25.48 27.92,27.72 27.30,28.70 C26.68,29.68 25.40,30.78 24.30,30.90 C23.20,31.02 22.42,30.38 20.70,29.40 C18.98,28.42 16.10,25.85 14.00,25.00 C11.90,24.15 9.93,24.30 8.10,24.30 C6.27,24.30 4.28,25.25 3.00,25.00 C1.72,24.75 0.90,23.78 0.40,22.80 C-0.10,21.82 -0.43,21.18 0.00,19.10 Z" fill="url(#bg)" stroke="#3a3a3a" stroke-width="0.6"/>
<g id="meds"><path d="M5.00,12.00 C5.83,11.33 8.00,9.08 10.00,8.00 C12.00,6.92 14.50,5.83 17.00,5.50 C19.50,5.17 22.67,5.33 25.00,6.00 C27.33,6.67 29.42,8.08 31.00,9.50 C32.58,10.92 33.92,12.92 34.50,14.50 C35.08,16.08 34.50,18.25 34.50,19.00  M9.50,16.00 C10.08,15.25 11.42,12.63 13.00,11.50 C14.58,10.37 16.92,9.45 19.00,9.20 C21.08,8.95 23.67,9.37 25.50,10.00 C27.33,10.63 29.25,12.50 30.00,13.00  M12.00,3.00 C12.25,3.67 13.25,6.33 13.50,7.00  M19.00,1.00 C19.08,1.75 19.42,4.75 19.50,5.50  M26.00,2.00 C25.92,2.67 25.58,5.33 25.50,6.00  M32.00,5.50 C31.67,6.08 30.33,8.42 30.00,9.00  M3.50,20.00 C4.25,19.83 6.50,18.83 8.00,19.00 C9.50,19.17 11.75,20.67 12.50,21.00  M30.50,22.00 C31.08,21.83 32.83,21.00 34.00,21.00 C35.17,21.00 36.92,21.83 37.50,22.00  M4.00,14.50 C4.58,14.83 6.92,16.17 7.50,16.50  M36.00,11.00 C35.67,11.50 34.33,13.50 34.00,14.00  M8.00,4.50 C8.25,5.08 9.25,7.42 9.50,8.00  M15.50,1.00 C15.67,1.72 16.33,4.58 16.50,5.30  M22.50,0.80 C22.50,1.58 22.50,4.72 22.50,5.50  M29.00,3.00 C28.83,3.67 28.17,6.33 28.00,7.00  M35.00,8.00 C34.58,8.50 32.92,10.50 32.50,11.00  M2.00,16.00 C2.58,16.25 4.92,17.25 5.50,17.50  M6.00,22.00 C6.67,22.25 9.33,23.25 10.00,23.50  M37.50,15.50 C37.08,15.75 35.42,16.75 35.00,17.00  M33.00,24.50 C33.50,23.67 35.50,20.33 36.00,19.50  M11.00,13.00 C11.42,13.33 13.08,14.67 13.50,15.00  M21.00,9.50 C21.08,10.08 21.42,12.42 21.50,13.00  M27.00,10.50 C27.08,11.08 27.42,13.42 27.50,14.00  M15.00,25.50 C15.67,25.83 17.83,26.83 19.00,27.50 C20.17,28.17 21.50,29.17 22.00,29.50  M6.50,9.00 C6.92,9.42 8.58,11.08 9.00,11.50  M11.00,6.00 C11.50,6.58 13.50,8.92 14.00,9.50  M17.00,6.50 C17.33,6.83 18.67,8.17 19.00,8.50  M23.50,7.00 C23.75,7.33 24.75,8.67 25.00,9.00  M29.50,8.00 C29.83,8.50 31.17,10.50 31.50,11.00  M32.00,14.00 C32.67,14.00 35.33,14.00 36.00,14.00  M35.50,19.00 C36.00,19.08 38.00,19.42 38.50,19.50  M31.00,17.00 C31.33,17.33 32.67,18.67 33.00,19.00  M2.00,21.50 C2.42,21.83 4.08,23.17 4.50,23.50  M9.00,20.00 C9.33,19.58 10.67,17.92 11.00,17.50  M30.00,25.00 C30.50,24.58 32.50,22.92 33.00,22.50  M10.00,24.00 C10.58,23.83 12.92,23.17 13.50,23.00 " fill="none" stroke="#1e1e1e" stroke-width="0.7" stroke-linecap="round" opacity="0.8"/><path d="M13.70,16.20 C14.07,15.17 14.80,14.90 16.20,14.40 C17.60,13.90 20.37,13.27 22.10,13.20 C23.83,13.13 25.37,13.50 26.60,14.00 C27.83,14.50 28.77,15.47 29.50,16.20 C30.23,16.93 31.12,17.55 31.00,18.40 C30.88,19.25 29.42,20.20 28.80,21.30 C28.18,22.40 27.67,23.88 27.30,25.00 C26.93,26.12 27.10,27.38 26.60,28.00 C26.10,28.62 25.28,28.95 24.30,28.70 C23.32,28.45 22.05,27.35 20.70,26.50 C19.35,25.65 17.32,24.58 16.20,23.60 C15.08,22.62 14.42,21.83 14.00,20.60 C13.58,19.37 13.33,17.23 13.70,16.20 Z" fill="#222"/></g>
</defs>
<g transform="translate(446.9 55.3)">
<use href="#latf"/>
<path d="M8.60,5.10 L14.50,5.10 L14.50,7.50 L8.60,7.50 Z" fill="#e9566a" stroke="#e9566a" stroke-width="0.6" stroke-linejoin="round"/>
<path d="M2.80,14.50 L9.80,13.30 L15.60,19.20 L8.60,22.70 L4.00,19.20 Z" fill="#e9566a" stroke="#e9566a" stroke-width="0.6" stroke-linejoin="round"/>
<path d="M27.30,8.60 L34.30,8.60 L34.30,15.60 L27.30,15.60 Z" fill="#e9566a" stroke="#e9566a" stroke-width="0.6" stroke-linejoin="round"/>
<path d="M12.10,26.20 L22.70,21.50 L33.20,20.30 L27.30,25.00 L15.60,29.70 Z" fill="#e9566a" stroke="#e9566a" stroke-width="0.6" stroke-linejoin="round"/>
<use href="#lats"/>
</g>
<g transform="translate(494.9 50.0)">
<use href="#latf"/>
<path d="M38.00,12.80 L40.40,17.50 L39.70,24.50 L35.70,25.70 L35.00,19.90 Z" fill="#962a9c" stroke="#962a9c" stroke-width="0.6" stroke-linejoin="round"/>
<use href="#lats"/>
</g>
<g transform="translate(538.6 60.8)">
<use href="#medf"/>
<path d="M2.60,10.60 L4.10,11.60 L7.10,17.10 L10.10,20.10 L13.60,21.10 L13.10,24.10 L10.10,24.60 L6.10,22.60 L2.10,20.60 L0.40,17.10 L1.50,13.10 Z" fill="#f02626" stroke="#f02626" stroke-width="0.6" stroke-linejoin="round"/>
<use href="#meds"/>
</g>
<g transform="translate(578.0 85.5)">
<use href="#latf"/>
<path d="M28.00,3.30 L32.50,3.30 L32.50,6.60 L28.00,6.60 Z" fill="#3aa45e" stroke="#3aa45e" stroke-width="0.6" stroke-linejoin="round"/>
<path d="M33.60,13.30 L37.60,11.00 L38.40,19.90 L35.80,25.40 L32.50,26.50 L31.40,22.10 Z" fill="#3aa45e" stroke="#3aa45e" stroke-width="0.6" stroke-linejoin="round"/>
<use href="#lats"/>
</g>
<g transform="translate(603.9 119.8)">
<use href="#latf"/>
<path d="M13.30,1.10 L17.70,1.10 L17.70,6.60 L13.30,6.60 Z" fill="#1f7f3e" stroke="#1f7f3e" stroke-width="0.6" stroke-linejoin="round"/>
<path d="M20.50,9.90 L26.50,2.20 L28.70,2.90 L23.60,9.50 Z" fill="#1f7f3e" stroke="#1f7f3e" stroke-width="0.6" stroke-linejoin="round"/>
<path d="M30.90,17.70 L33.10,17.70 L33.10,22.10 L30.90,22.10 Z" fill="#1f7f3e" stroke="#1f7f3e" stroke-width="0.6" stroke-linejoin="round"/>
<use href="#lats"/>
</g>
<g transform="translate(618.4 156.2)">
<use href="#medf"/>
<path d="M11.50,2.20 L21.40,0.70 L23.00,7.70 L18.10,7.70 L13.70,5.50 Z" fill="#4a9bd6" stroke="#4a9bd6" stroke-width="0.6" stroke-linejoin="round"/>
<use href="#meds"/>
</g>
<g transform="translate(619.4 188.9)">
<use href="#latf"/>
<path d="M16.50,6.60 L20.90,7.30 L21.60,11.70 L25.30,15.40 L23.80,18.40 L18.70,20.60 L15.70,22.10 L16.50,18.40 L14.20,13.20 Z" fill="#35dcc0" stroke="#35dcc0" stroke-width="0.6" stroke-linejoin="round"/>
<use href="#lats"/>
</g>
<g transform="translate(613.1 222.1)">
<use href="#latf"/>
<path d="M18.20,1.40 L26.30,1.40 L27.00,4.40 L24.10,7.30 L20.40,7.30 L17.50,4.40 Z" fill="#3e7fa6" stroke="#3e7fa6" stroke-width="0.6" stroke-linejoin="round"/>
<use href="#lats"/>
</g>
<g transform="translate(600.0 254.8)">
<use href="#latf"/>
<path d="M13.00,21.60 L24.00,17.40 L28.20,13.30 L31.00,17.40 L24.00,21.60 L14.40,24.90 Z" fill="#2b57dd" stroke="#2b57dd" stroke-width="0.6" stroke-linejoin="round"/>
<use href="#lats"/>
</g>
<g transform="translate(570.1 287.3)">
<use href="#latf"/>
<path d="M17.40,10.50 L24.30,10.50 L24.30,14.70 L17.40,14.70 Z" fill="#e360ee" stroke="#e360ee" stroke-width="0.6" stroke-linejoin="round"/>
<path d="M11.00,16.00 L16.00,14.70 L17.40,21.60 L11.90,23.80 Z" fill="#e360ee" stroke="#e360ee" stroke-width="0.6" stroke-linejoin="round"/>
<use href="#lats"/>
</g>
<g transform="translate(487.6 318.7)">
<use href="#latf"/>
<path d="M2.30,9.30 L7.00,9.30 L7.00,16.40 L2.30,16.40 Z" fill="#f3a6d6" stroke="#f3a6d6" stroke-width="0.6" stroke-linejoin="round"/>
<path d="M8.20,16.40 L12.80,16.40 L12.80,24.50 L8.20,24.50 Z" fill="#f3a6d6" stroke="#f3a6d6" stroke-width="0.6" stroke-linejoin="round"/>
<path d="M23.40,8.20 L28.00,8.20 L28.00,11.70 L23.40,11.70 Z" fill="#f3a6d6" stroke="#f3a6d6" stroke-width="0.6" stroke-linejoin="round"/>
<use href="#lats"/>
</g>
<g transform="translate(431.3 309.4)">
<use href="#medf"/>
<path d="M5.10,9.30 L9.80,5.80 L19.20,10.50 L23.80,12.80 L19.20,15.20 L12.10,11.70 L7.50,15.20 L4.00,14.00 Z" fill="#88a4d8" stroke="#88a4d8" stroke-width="0.6" stroke-linejoin="round"/>
<use href="#meds"/>
</g>
<g transform="translate(388.4 279.0)">
<use href="#latf"/>
<path d="M3.50,10.50 L14.00,2.30 L16.40,5.80 L10.50,11.70 L5.80,17.50 Z" fill="#f0962a" stroke="#f0962a" stroke-width="0.6" stroke-linejoin="round"/>
<path d="M26.90,4.70 L32.70,4.70 L32.70,7.00 L26.90,7.00 Z" fill="#f0962a" stroke="#f0962a" stroke-width="0.6" stroke-linejoin="round"/>
<path d="M26.90,21.00 L31.50,21.00 L31.50,25.70 L26.90,25.70 Z" fill="#f0962a" stroke="#f0962a" stroke-width="0.6" stroke-linejoin="round"/>
<use href="#lats"/>
</g>
<g transform="translate(352.9 220.5)">
<use href="#latf"/>
<path d="M11.60,5.00 L16.60,5.00 L16.60,9.90 L11.60,9.90 Z" fill="#b44462" stroke="#b44462" stroke-width="0.6" stroke-linejoin="round"/>
<path d="M28.20,6.60 L34.10,6.60 L34.10,11.60 L28.20,11.60 Z" fill="#b44462" stroke="#b44462" stroke-width="0.6" stroke-linejoin="round"/>
<path d="M1.70,14.90 L6.60,14.90 L6.60,21.50 L1.70,21.50 Z" fill="#b44462" stroke="#b44462" stroke-width="0.6" stroke-linejoin="round"/>
<path d="M24.90,23.20 L31.50,23.20 L31.50,28.20 L24.90,28.20 Z" fill="#b44462" stroke="#b44462" stroke-width="0.6" stroke-linejoin="round"/>
<use href="#lats"/>
</g>
<g transform="translate(349.8 181.1)">
<use href="#medf"/>
<path d="M19.90,24.50 L28.20,23.00 L27.50,28.50 L21.50,30.00 Z" fill="#c6eda0" stroke="#c6eda0" stroke-width="0.6" stroke-linejoin="round"/>
<use href="#meds"/>
</g>
<g transform="translate(353.7 148.6)">
<use href="#medf"/>
<path d="M25.50,21.00 L35.50,19.40 L33.80,24.40 L27.20,26.00 Z" fill="#93b04e" stroke="#93b04e" stroke-width="0.6" stroke-linejoin="round"/>
<use href="#meds"/>
</g>
<g transform="translate(366.9 114.5)">
<use href="#medf"/>
<path d="M4.00,14.90 L14.60,14.90 L14.60,19.90 L4.00,19.90 Z" fill="#20309a" stroke="#20309a" stroke-width="0.6" stroke-linejoin="round"/>
<path d="M13.90,24.90 L18.90,24.90 L18.90,28.20 L13.90,28.20 Z" fill="#20309a" stroke="#20309a" stroke-width="0.6" stroke-linejoin="round"/>
<use href="#meds"/>
</g>
<g transform="translate(400.1 79.0)">
<use href="#medf"/>
<path d="M4.00,11.00 L12.30,7.60 L23.90,11.00 L15.60,15.90 L7.30,17.60 L4.00,14.20 Z" fill="#f6ee20" stroke="#f6ee20" stroke-width="0.6" stroke-linejoin="round"/>
<path d="M28.80,14.20 L37.10,14.20 L37.10,20.90 L28.80,20.90 Z" fill="#f6ee20" stroke="#f6ee20" stroke-width="0.6" stroke-linejoin="round"/>
<use href="#meds"/>
</g>
<clipPath id="clip385_370"><path d="M391.39,417.45 C391.23,414.25 392.00,409.84 393.21,406.50 C394.43,403.15 396.41,400.26 398.69,397.37 C400.97,394.48 403.70,391.59 406.90,389.16 C410.09,386.73 413.89,384.60 417.85,382.77 C421.80,380.95 426.06,379.28 430.62,378.21 C435.18,377.15 440.66,376.60 445.22,376.39 C449.78,376.17 454.04,376.33 457.99,376.93 C461.95,377.54 465.29,378.45 468.94,380.04 C472.59,381.62 476.55,383.84 479.89,386.42 C483.24,389.01 486.43,392.35 489.01,395.55 C491.60,398.74 493.58,402.24 495.40,405.58 C497.23,408.93 498.90,412.43 499.96,415.62 C501.03,418.81 501.64,421.86 501.79,424.74 C501.94,427.63 501.64,430.68 500.88,432.96 C500.12,435.24 498.90,437.06 497.23,438.43 C495.55,439.80 493.12,440.65 490.84,441.17 C488.56,441.68 485.97,441.38 483.54,441.53 C481.11,441.68 478.67,441.53 476.24,442.08 C473.81,442.63 471.68,443.60 468.94,444.82 C466.20,446.03 463.16,448.01 459.82,449.38 C456.47,450.75 452.52,452.12 448.87,453.03 C445.22,453.94 441.27,454.70 437.92,454.85 C434.57,455.01 431.08,454.70 428.80,453.94 C426.51,453.18 425.15,451.81 424.23,450.29 C423.32,448.77 423.11,446.49 423.32,444.82 C423.53,443.14 426.27,441.32 425.51,440.26 C424.75,439.19 421.56,439.19 418.76,438.43 C415.96,437.67 411.92,436.91 408.72,435.69 C405.53,434.48 402.03,432.80 399.60,431.13 C397.17,429.46 395.49,427.94 394.12,425.66 C392.76,423.38 391.54,420.64 391.39,417.45 Z"/></clipPath>
<path d="M391.39,417.45 C391.23,414.25 392.00,409.84 393.21,406.50 C394.43,403.15 396.41,400.26 398.69,397.37 C400.97,394.48 403.70,391.59 406.90,389.16 C410.09,386.73 413.89,384.60 417.85,382.77 C421.80,380.95 426.06,379.28 430.62,378.21 C435.18,377.15 440.66,376.60 445.22,376.39 C449.78,376.17 454.04,376.33 457.99,376.93 C461.95,377.54 465.29,378.45 468.94,380.04 C472.59,381.62 476.55,383.84 479.89,386.42 C483.24,389.01 486.43,392.35 489.01,395.55 C491.60,398.74 493.58,402.24 495.40,405.58 C497.23,408.93 498.90,412.43 499.96,415.62 C501.03,418.81 501.64,421.86 501.79,424.74 C501.94,427.63 501.64,430.68 500.88,432.96 C500.12,435.24 498.90,437.06 497.23,438.43 C495.55,439.80 493.12,440.65 490.84,441.17 C488.56,441.68 485.97,441.38 483.54,441.53 C481.11,441.68 478.67,441.53 476.24,442.08 C473.81,442.63 471.68,443.60 468.94,444.82 C466.20,446.03 463.16,448.01 459.82,449.38 C456.47,450.75 452.52,452.12 448.87,453.03 C445.22,453.94 441.27,454.70 437.92,454.85 C434.57,455.01 431.08,454.70 428.80,453.94 C426.51,453.18 425.15,451.81 424.23,450.29 C423.32,448.77 423.11,446.49 423.32,444.82 C423.53,443.14 426.27,441.32 425.51,440.26 C424.75,439.19 421.56,439.19 418.76,438.43 C415.96,437.67 411.92,436.91 408.72,435.69 C405.53,434.48 402.03,432.80 399.60,431.13 C397.17,429.46 395.49,427.94 394.12,425.66 C392.76,423.38 391.54,420.64 391.39,417.45 Z" fill="url(#bg2)"/>
<g clip-path="url(#clip385_370)">
<g stroke="#3a2a22" stroke-width="0.55" stroke-linejoin="round">
<path d="M397.77,397.37 L406.53,388.25 L419.67,384.60 L415.11,391.53 L412.74,397.74 L405.44,402.12 L401.79,406.86 L399.96,412.34 L393.39,413.43 L394.12,406.50 Z" fill="#f82a20"/>
<path d="M394.12,406.13 L398.14,397.74 L402.70,396.09 L400.88,402.85 L396.31,409.42 Z" fill="#f4ee12"/>
<path d="M391.57,415.62 L398.87,413.80 L404.34,417.45 L407.08,424.74 L406.17,433.50 L399.60,431.68 L393.76,425.84 Z" fill="#ff7d12"/>
<path d="M406.17,424.74 L412.37,412.88 L417.12,409.05 L420.77,415.62 L424.42,422.19 L421.86,428.76 L418.21,433.14 L412.37,434.96 L406.90,433.14 Z" fill="#f82a20"/>
<path d="M412.37,424.74 L418.94,422.92 L424.42,428.39 L426.24,434.96 L420.77,436.79 L415.29,433.14 Z" fill="#ff7d12"/>
<path d="M406.17,433.14 L412.37,434.96 L420.77,436.79 L426.24,434.96 L425.88,440.80 L418.76,438.98 L408.72,436.06 Z" fill="#f82a20"/>
<path d="M432.81,417.81 L439.74,413.80 L450.69,410.51 L461.64,408.69 L464.56,412.34 L457.99,417.81 L445.22,422.92 L437.01,424.74 Z" fill="#8a8a8a"/>
<path d="M424.23,424.74 L431.72,422.92 L437.19,427.66 L433.54,432.41 L426.97,431.31 Z" fill="#f4ee12"/>
<path d="M431.53,380.95 L437.92,378.76 L440.84,383.69 L437.92,387.52 L433.36,387.52 Z" fill="#f4ee12"/>
<path d="M441.57,380.95 L448.87,377.66 L451.79,384.60 L449.23,394.09 L445.22,388.25 Z" fill="#f4ee12"/>
<path d="M451.61,380.95 L459.82,377.66 L464.56,380.95 L457.99,387.52 L454.34,392.99 L449.96,394.09 Z" fill="#f4ee12"/>
<path d="M447.96,403.94 L454.34,401.02 L459.82,397.37 L465.29,406.50 L463.47,413.07 L457.99,411.97 L449.78,411.24 Z" fill="#f82a20"/>
<path d="M459.82,399.20 L462.55,398.28 L464.56,404.67 L462.01,405.22 Z" fill="#f4ee12"/>
<path d="M465.29,392.99 L474.42,388.98 L480.26,390.99 L476.24,395.73 L468.94,394.82 Z" fill="#f82a20"/>
<path d="M466.20,406.50 L473.69,399.93 L479.16,403.76 L480.99,413.80 L476.24,416.72 L467.12,413.80 Z" fill="#f82a20"/>
<path d="M482.63,416.53 L492.66,410.88 L499.60,417.08 L502.70,424.74 L501.79,433.50 L497.77,439.34 L489.93,440.80 L487.19,430.22 L484.45,422.92 Z" fill="#f82a20"/>
<path d="M425.15,440.26 L434.27,433.87 L447.04,429.31 L461.64,422.92 L465.29,411.97 L470.77,415.62 L479.89,418.36 L484.45,422.92 L487.19,430.22 L489.38,437.88 L483.54,441.90 L476.24,442.26 L470.77,432.04 L463.47,428.39 L456.17,432.96 L452.52,441.17 L445.22,446.64 L436.09,450.29 L428.80,452.48 L423.69,448.83 Z" fill="#ff7d12"/>
<path d="M430.62,432.04 L439.74,428.39 L457.99,420.18 L463.47,413.80 L466.39,418.36 L461.64,424.01 L447.04,430.40 L434.27,434.96 Z" fill="#f82a20"/>
<path d="M453.43,440.26 L457.99,432.96 L465.29,428.39 L470.77,432.04 L475.33,440.26 L470.77,443.91 L461.64,447.55 L455.26,446.64 Z" fill="#ababab"/>
<path d="M423.69,450.29 L437.92,450.29 L448.87,447.55 L453.43,442.08 L455.44,447.55 L448.87,453.58 L437.92,455.40 L428.43,454.31 Z" fill="#ff7d12"/>
<path d="M478.07,426.57 L480.80,421.09 L482.81,424.74 L480.99,430.40 Z" fill="#f4ee12"/>
<path d="M475.88,442.26 L483.54,441.72 L489.93,440.44 L487.19,432.04 L479.89,432.96 Z" fill="#f82a20"/>
</g>
<path d="M419.7,384.6 L424.2,389.2 L420.6,394.6 L414.2,397.4 L416.9,401.9 L412.4,406.5 L414.2,412.9 M424.2,389.2 L430.6,387.3 L433.4,387.5 M430.6,387.3 L431.5,395.5 L428.8,404.7 L431.5,413.8 L427.9,422.0 M417.1,409.1 L422.4,404.7 L428.8,404.7 M437.9,387.5 L439.7,397.4 L445.2,404.7 L448.0,403.9 M431.5,413.8 L439.7,411.1 L448.0,411.2 M435.2,422.9 L445.2,417.4 L458.0,412.9 L463.5,413.1 M464.6,380.9 L467.1,388.2 L465.3,393.0 M468.9,380.0 L472.6,388.2 M476.2,395.7 L481.7,401.0 L487.2,399.2 L492.7,410.9 M479.2,403.8 L485.4,404.7 L489.0,395.5 M481.0,413.8 L482.6,416.5 M458.0,433.0 L459.8,440.3 L455.3,446.6 M465.3,428.4 L467.1,437.5 L470.8,443.9 M441.6,437.9 L459.8,430.2" fill="none" stroke="#2e2e2e" stroke-width="0.55" stroke-linejoin="round" opacity="0.85"/>
<path d="M391.39,417.45 C391.23,414.25 392.00,409.84 393.21,406.50 C394.43,403.15 396.41,400.26 398.69,397.37 C400.97,394.48 403.70,391.59 406.90,389.16 C410.09,386.73 413.89,384.60 417.85,382.77 C421.80,380.95 426.06,379.28 430.62,378.21 C435.18,377.15 440.66,376.60 445.22,376.39 C449.78,376.17 454.04,376.33 457.99,376.93 C461.95,377.54 465.29,378.45 468.94,380.04 C472.59,381.62 476.55,383.84 479.89,386.42 C483.24,389.01 486.43,392.35 489.01,395.55 C491.60,398.74 493.58,402.24 495.40,405.58 C497.23,408.93 498.90,412.43 499.96,415.62 C501.03,418.81 501.64,421.86 501.79,424.74 C501.94,427.63 501.64,430.68 500.88,432.96 C500.12,435.24 498.90,437.06 497.23,438.43 C495.55,439.80 493.12,440.65 490.84,441.17 C488.56,441.68 485.97,441.38 483.54,441.53 C481.11,441.68 478.67,441.53 476.24,442.08 C473.81,442.63 471.68,443.60 468.94,444.82 C466.20,446.03 463.16,448.01 459.82,449.38 C456.47,450.75 452.52,452.12 448.87,453.03 C445.22,453.94 441.27,454.70 437.92,454.85 C434.57,455.01 431.08,454.70 428.80,453.94 C426.51,453.18 425.15,451.81 424.23,450.29 C423.32,448.77 423.11,446.49 423.32,444.82 C423.53,443.14 426.27,441.32 425.51,440.26 C424.75,439.19 421.56,439.19 418.76,438.43 C415.96,437.67 411.92,436.91 408.72,435.69 C405.53,434.48 402.03,432.80 399.60,431.13 C397.17,429.46 395.49,427.94 394.12,425.66 C392.76,423.38 391.54,420.64 391.39,417.45 Z" fill="url(#shade)" stroke="#000" stroke-opacity="0.3" stroke-width="1.4"/>
</g>
<clipPath id="clip505_370"><path d="M508.65,424.74 C508.50,421.70 509.26,417.75 510.47,413.80 C511.69,409.84 513.52,404.98 515.95,401.02 C518.38,397.07 521.73,393.27 525.07,390.07 C528.42,386.88 531.76,383.99 536.02,381.86 C540.28,379.73 545.45,378.21 550.62,377.30 C555.79,376.39 561.87,376.08 567.04,376.39 C572.21,376.69 576.78,377.60 581.64,379.12 C586.51,380.64 591.98,382.93 596.24,385.51 C600.50,388.10 604.15,391.44 607.19,394.64 C610.23,397.83 612.51,401.17 614.49,404.67 C616.47,408.17 618.29,412.27 619.05,415.62 C619.81,418.97 619.81,422.01 619.05,424.74 C618.29,427.48 616.62,430.07 614.49,432.04 C612.36,434.02 609.32,435.54 606.28,436.61 C603.24,437.67 598.98,437.82 596.24,438.43 C593.50,439.04 591.22,438.89 589.85,440.26 C588.49,441.62 589.40,444.51 588.03,446.64 C586.66,448.77 583.92,451.81 581.64,453.03 C579.36,454.25 577.08,454.25 574.34,453.94 C571.61,453.64 568.56,452.42 565.22,451.20 C561.87,449.99 558.22,448.01 554.27,446.64 C550.32,445.27 545.75,444.06 541.50,442.99 C537.24,441.93 532.68,441.32 528.72,440.26 C524.77,439.19 520.66,437.97 517.77,436.61 C514.88,435.24 512.91,434.02 511.39,432.04 C509.87,430.07 508.80,427.79 508.65,424.74 Z"/></clipPath>
<path d="M508.65,424.74 C508.50,421.70 509.26,417.75 510.47,413.80 C511.69,409.84 513.52,404.98 515.95,401.02 C518.38,397.07 521.73,393.27 525.07,390.07 C528.42,386.88 531.76,383.99 536.02,381.86 C540.28,379.73 545.45,378.21 550.62,377.30 C555.79,376.39 561.87,376.08 567.04,376.39 C572.21,376.69 576.78,377.60 581.64,379.12 C586.51,380.64 591.98,382.93 596.24,385.51 C600.50,388.10 604.15,391.44 607.19,394.64 C610.23,397.83 612.51,401.17 614.49,404.67 C616.47,408.17 618.29,412.27 619.05,415.62 C619.81,418.97 619.81,422.01 619.05,424.74 C618.29,427.48 616.62,430.07 614.49,432.04 C612.36,434.02 609.32,435.54 606.28,436.61 C603.24,437.67 598.98,437.82 596.24,438.43 C593.50,439.04 591.22,438.89 589.85,440.26 C588.49,441.62 589.40,444.51 588.03,446.64 C586.66,448.77 583.92,451.81 581.64,453.03 C579.36,454.25 577.08,454.25 574.34,453.94 C571.61,453.64 568.56,452.42 565.22,451.20 C561.87,449.99 558.22,448.01 554.27,446.64 C550.32,445.27 545.75,444.06 541.50,442.99 C537.24,441.93 532.68,441.32 528.72,440.26 C524.77,439.19 520.66,437.97 517.77,436.61 C514.88,435.24 512.91,434.02 511.39,432.04 C509.87,430.07 508.80,427.79 508.65,424.74 Z" fill="url(#bg2)"/>
<g clip-path="url(#clip505_370)">
<g stroke="#3a2a22" stroke-width="0.55" stroke-linejoin="round">
<path d="M540.58,382.77 L548.80,383.69 L556.09,387.34 L559.74,395.55 L563.76,399.20 L558.83,400.29 L554.27,395.55 L550.62,390.07 L544.23,389.34 Z" fill="#f4ee12"/>
<path d="M539.31,382.04 L544.23,382.77 L545.51,388.98 L542.41,388.25 Z" fill="#ffa010"/>
<path d="M551.53,379.12 L558.83,376.93 L563.39,382.77 L566.31,389.16 L563.39,392.99 L557.92,387.34 L553.36,383.69 Z" fill="#f4ee12"/>
<path d="M560.66,377.30 L567.96,376.93 L571.06,382.77 L566.31,388.25 L563.03,381.86 Z" fill="#f4ee12"/>
<path d="M566.13,389.16 L571.79,387.15 L577.26,395.55 L578.36,406.50 L574.34,410.51 L568.87,406.50 L565.22,401.02 L567.04,395.55 Z" fill="#f82a20"/>
<path d="M545.15,400.11 L550.62,397.37 L557.92,400.11 L563.39,404.67 L561.57,409.42 L556.09,409.42 L553.36,414.89 L546.97,413.80 L544.05,406.50 Z" fill="#f82a20"/>
<path d="M535.66,420.18 L544.23,413.43 L552.45,415.62 L561.57,422.01 L572.52,428.39 L578.36,433.14 L570.69,434.96 L559.74,433.14 L548.80,428.58 L539.67,424.93 Z" fill="#ff7d12"/>
<path d="M553.91,412.34 L559.74,410.51 L567.04,413.07 L574.34,417.81 L577.99,422.92 L572.52,424.74 L563.39,420.36 L556.09,417.08 Z" fill="#8a8a8a"/>
<path d="M561.57,422.01 L567.04,422.92 L569.23,424.93 L565.22,424.56 Z" fill="#f82a20"/>
<path d="M562.12,444.82 L570.69,442.08 L577.99,436.61 L574.34,431.13 L581.64,434.78 L588.21,441.17 L587.30,447.01 L581.64,449.56 L572.52,448.65 Z" fill="#f82a20"/>
<path d="M592.59,386.97 L599.89,388.98 L608.28,396.46 L613.03,402.12 L607.19,399.20 L599.89,393.72 Z" fill="#f82a20"/>
<path d="M598.07,395.55 L604.45,394.45 L611.93,402.85 L614.85,409.23 L611.93,413.98 L607.19,409.23 L603.54,402.85 Z" fill="#ff7d12"/>
<path d="M602.45,422.01 L609.01,414.53 L612.85,417.45 L610.11,424.01 L605.36,425.84 Z" fill="#f4ee12"/>
</g>
<path d="M515.9,401.0 L523.2,404.7 L520.5,413.8 L526.9,419.3 L524.2,430.2 L532.4,433.9 M525.1,390.1 L529.6,397.4 L536.9,399.2 L544.1,406.5 M523.2,404.7 L532.4,401.9 L536.9,399.2 M520.5,413.8 L530.5,411.1 L539.7,412.9 L544.2,413.4 M526.9,419.3 L535.7,420.2 M532.4,433.9 L539.7,424.9 M532.4,433.9 L541.5,437.5 L548.8,435.7 L554.3,443.0 L562.1,444.8 M536.0,381.9 L540.6,382.8 M541.5,437.5 L543.3,430.2 L548.8,428.6 M548.8,435.7 L556.1,433.0 L559.7,433.1 M554.3,443.0 L559.7,439.3 L570.7,442.1 M578.4,406.5 L583.5,412.0 L590.8,411.1 L596.2,416.5 L602.4,422.0 M581.6,379.1 L582.6,388.2 L588.9,395.5 L598.1,395.5 M582.6,388.2 L577.3,395.5 M588.9,395.5 L589.9,404.7 L596.2,408.3 L603.5,402.8 M583.5,412.0 L585.3,422.9 L590.8,428.4 L599.9,426.6 L605.4,425.8 M574.3,410.5 L575.3,419.3 L572.5,428.4 M590.8,411.1 L592.6,421.1 L590.8,428.4 M585.3,422.9 L581.6,434.8 M590.8,428.4 L589.9,440.3 M565.2,401.0 L561.6,409.4" fill="none" stroke="#2e2e2e" stroke-width="0.55" stroke-linejoin="round" opacity="0.85"/>
<path d="M508.65,424.74 C508.50,421.70 509.26,417.75 510.47,413.80 C511.69,409.84 513.52,404.98 515.95,401.02 C518.38,397.07 521.73,393.27 525.07,390.07 C528.42,386.88 531.76,383.99 536.02,381.86 C540.28,379.73 545.45,378.21 550.62,377.30 C555.79,376.39 561.87,376.08 567.04,376.39 C572.21,376.69 576.78,377.60 581.64,379.12 C586.51,380.64 591.98,382.93 596.24,385.51 C600.50,388.10 604.15,391.44 607.19,394.64 C610.23,397.83 612.51,401.17 614.49,404.67 C616.47,408.17 618.29,412.27 619.05,415.62 C619.81,418.97 619.81,422.01 619.05,424.74 C618.29,427.48 616.62,430.07 614.49,432.04 C612.36,434.02 609.32,435.54 606.28,436.61 C603.24,437.67 598.98,437.82 596.24,438.43 C593.50,439.04 591.22,438.89 589.85,440.26 C588.49,441.62 589.40,444.51 588.03,446.64 C586.66,448.77 583.92,451.81 581.64,453.03 C579.36,454.25 577.08,454.25 574.34,453.94 C571.61,453.64 568.56,452.42 565.22,451.20 C561.87,449.99 558.22,448.01 554.27,446.64 C550.32,445.27 545.75,444.06 541.50,442.99 C537.24,441.93 532.68,441.32 528.72,440.26 C524.77,439.19 520.66,437.97 517.77,436.61 C514.88,435.24 512.91,434.02 511.39,432.04 C509.87,430.07 508.80,427.79 508.65,424.74 Z" fill="url(#shade)" stroke="#000" stroke-opacity="0.3" stroke-width="1.4"/>
</g>
<clipPath id="clip380_455"><path d="M391.24,516.31 C391.58,513.08 392.43,507.12 394.31,502.01 C396.18,496.90 399.07,490.42 402.48,485.66 C405.89,480.89 409.97,476.80 414.74,473.39 C419.51,469.99 425.30,466.85 431.09,465.22 C436.88,463.58 443.36,463.24 449.49,463.58 C455.62,463.92 462.09,465.12 467.88,467.26 C473.67,469.41 479.63,472.88 484.23,476.46 C488.83,480.04 492.58,484.63 495.47,488.72 C498.37,492.81 500.58,496.90 501.60,500.98 C502.62,505.07 502.79,509.84 501.60,513.25 C500.41,516.65 497.69,519.38 494.45,521.42 C491.21,523.47 485.93,524.83 482.19,525.51 C478.44,526.19 474.01,523.98 471.97,525.51 C469.92,527.04 471.63,532.15 469.92,534.71 C468.22,537.26 464.82,540.50 461.75,540.84 C458.68,541.18 455.28,538.11 451.53,536.75 C447.78,535.39 443.70,533.85 439.27,532.66 C434.84,531.47 429.73,530.28 424.96,529.60 C420.19,528.92 415.08,529.09 410.66,528.57 C406.23,528.06 401.46,527.72 398.39,526.53 C395.33,525.34 393.45,523.12 392.26,521.42 C391.07,519.72 390.90,519.55 391.24,516.31 Z"/></clipPath>
<path d="M391.24,516.31 C391.58,513.08 392.43,507.12 394.31,502.01 C396.18,496.90 399.07,490.42 402.48,485.66 C405.89,480.89 409.97,476.80 414.74,473.39 C419.51,469.99 425.30,466.85 431.09,465.22 C436.88,463.58 443.36,463.24 449.49,463.58 C455.62,463.92 462.09,465.12 467.88,467.26 C473.67,469.41 479.63,472.88 484.23,476.46 C488.83,480.04 492.58,484.63 495.47,488.72 C498.37,492.81 500.58,496.90 501.60,500.98 C502.62,505.07 502.79,509.84 501.60,513.25 C500.41,516.65 497.69,519.38 494.45,521.42 C491.21,523.47 485.93,524.83 482.19,525.51 C478.44,526.19 474.01,523.98 471.97,525.51 C469.92,527.04 471.63,532.15 469.92,534.71 C468.22,537.26 464.82,540.50 461.75,540.84 C458.68,541.18 455.28,538.11 451.53,536.75 C447.78,535.39 443.70,533.85 439.27,532.66 C434.84,531.47 429.73,530.28 424.96,529.60 C420.19,528.92 415.08,529.09 410.66,528.57 C406.23,528.06 401.46,527.72 398.39,526.53 C395.33,525.34 393.45,523.12 392.26,521.42 C391.07,519.72 390.90,519.55 391.24,516.31 Z" fill="url(#bg2)"/>
<g clip-path="url(#clip380_455)">
<g stroke="#3a2a22" stroke-width="0.55" stroke-linejoin="round">
<path d="M450.51,464.20 L461.75,465.63 L465.84,475.44 L469.92,483.61 L480.14,489.74 L481.37,498.33 L471.97,501.19 L467.88,498.94 L466.86,491.79 L460.73,488.72 L449.49,485.66 L456.64,481.57 L454.60,473.39 Z" fill="#f82a20"/>
<path d="M431.09,498.33 L439.27,492.81 L451.53,490.56 L456.03,493.01 L447.44,496.28 L439.27,497.51 Z" fill="#f82a20"/>
<path d="M463.79,466.85 L471.97,469.71 L484.64,475.85 L495.68,487.70 L500.58,496.90 L491.38,499.55 L486.27,492.81 L482.19,483.61 L471.97,475.44 Z" fill="#f4ee12"/>
<path d="M390.63,506.09 L396.35,510.18 L402.48,518.36 L414.74,523.47 L424.55,530.21 L410.66,529.39 L397.98,527.35 L390.22,518.76 Z" fill="#f82a20"/>
<path d="M393.49,514.27 L398.39,512.22 L402.89,519.58 L396.35,524.08 L392.67,520.81 Z" fill="#f4ee12"/>
</g>
<path d="M414.7,473.4 L422.9,477.5 L420.9,485.7 L410.7,489.7 L410.7,497.9 L420.9,504.0 L428.0,508.1 M422.9,477.5 L439.3,477.5 L449.5,485.7 M431.1,465.2 L434.2,472.4 L439.3,477.5 M420.9,485.7 L433.1,485.7 L439.3,492.8 M402.5,485.7 L408.6,493.8 L404.5,504.0 L414.7,510.2 L425.0,516.3 L429.0,516.3 M408.6,493.8 L410.7,489.7 M394.3,502.0 L402.5,506.1 L410.7,514.3 L420.9,518.4 L431.1,522.4 M402.5,506.1 L404.5,504.0 M402.5,518.4 L410.7,514.3 M479.1,508.1 L488.3,506.1 L494.4,512.2 L501.6,510.2 M476.1,513.2 L484.2,516.3 L491.4,514.3 L494.4,512.2 M481.4,498.3 L488.3,506.1 M491.4,499.6 L494.4,506.1 M469.9,516.3 L478.1,520.4 L482.2,525.5 M486.3,520.4 L494.4,516.3 L497.5,518.4" fill="none" stroke="#2e2e2e" stroke-width="0.55" stroke-linejoin="round" opacity="0.85"/>
<path d="M428.03,508.14 C428.88,505.75 430.24,502.86 433.14,500.98 C436.03,499.11 440.63,497.58 445.40,496.90 C450.17,496.22 457.32,496.22 461.75,496.90 C466.18,497.58 469.07,499.11 471.97,500.98 C474.86,502.86 478.44,506.09 479.12,508.14 C479.80,510.18 477.59,511.88 476.06,513.25 C474.52,514.61 471.46,514.44 469.92,516.31 C468.39,518.19 468.05,521.59 466.86,524.49 C465.67,527.38 464.64,531.98 462.77,533.68 C460.90,535.39 458.85,535.39 455.62,534.71 C452.38,534.02 447.10,531.64 443.36,529.60 C439.61,527.55 435.69,524.83 433.14,522.44 C430.58,520.06 428.88,517.67 428.03,515.29 C427.18,512.91 427.18,510.52 428.03,508.14 Z" fill="#222"/>
<path d="M391.24,516.31 C391.58,513.08 392.43,507.12 394.31,502.01 C396.18,496.90 399.07,490.42 402.48,485.66 C405.89,480.89 409.97,476.80 414.74,473.39 C419.51,469.99 425.30,466.85 431.09,465.22 C436.88,463.58 443.36,463.24 449.49,463.58 C455.62,463.92 462.09,465.12 467.88,467.26 C473.67,469.41 479.63,472.88 484.23,476.46 C488.83,480.04 492.58,484.63 495.47,488.72 C498.37,492.81 500.58,496.90 501.60,500.98 C502.62,505.07 502.79,509.84 501.60,513.25 C500.41,516.65 497.69,519.38 494.45,521.42 C491.21,523.47 485.93,524.83 482.19,525.51 C478.44,526.19 474.01,523.98 471.97,525.51 C469.92,527.04 471.63,532.15 469.92,534.71 C468.22,537.26 464.82,540.50 461.75,540.84 C458.68,541.18 455.28,538.11 451.53,536.75 C447.78,535.39 443.70,533.85 439.27,532.66 C434.84,531.47 429.73,530.28 424.96,529.60 C420.19,528.92 415.08,529.09 410.66,528.57 C406.23,528.06 401.46,527.72 398.39,526.53 C395.33,525.34 393.45,523.12 392.26,521.42 C391.07,519.72 390.90,519.55 391.24,516.31 Z" fill="url(#shade)" stroke="#000" stroke-opacity="0.3" stroke-width="1.4"/>
</g>
<clipPath id="clip500_455"><path d="M509.20,504.05 C509.71,500.47 511.75,495.87 514.31,491.79 C516.86,487.70 520.10,483.27 524.52,479.52 C528.95,475.78 534.74,471.96 540.87,469.31 C547.01,466.65 554.84,464.44 561.31,463.58 C567.78,462.73 574.26,463.07 579.71,464.20 C585.16,465.32 589.24,467.09 594.01,470.33 C598.78,473.56 604.57,479.01 608.32,483.61 C612.06,488.21 614.62,493.15 616.49,497.92 C618.37,502.69 619.56,508.31 619.56,512.22 C619.56,516.14 618.71,519.38 616.49,521.42 C614.28,523.47 610.02,523.98 606.27,524.49 C602.53,525.00 597.42,523.98 594.01,524.49 C590.61,525.00 588.56,526.36 585.84,527.55 C583.11,528.74 580.73,530.28 577.66,531.64 C574.60,533.00 571.19,534.37 567.44,535.73 C563.70,537.09 558.93,539.64 555.18,539.82 C551.43,539.99 547.52,538.28 544.96,536.75 C542.41,535.22 540.53,532.32 539.85,530.62 C539.17,528.92 542.41,527.55 540.87,526.53 C539.34,525.51 534.40,525.51 530.66,524.49 C526.91,523.47 521.63,522.27 518.39,520.40 C515.16,518.53 512.77,515.97 511.24,513.25 C509.71,510.52 508.69,507.63 509.20,504.05 Z"/></clipPath>
<path d="M509.20,504.05 C509.71,500.47 511.75,495.87 514.31,491.79 C516.86,487.70 520.10,483.27 524.52,479.52 C528.95,475.78 534.74,471.96 540.87,469.31 C547.01,466.65 554.84,464.44 561.31,463.58 C567.78,462.73 574.26,463.07 579.71,464.20 C585.16,465.32 589.24,467.09 594.01,470.33 C598.78,473.56 604.57,479.01 608.32,483.61 C612.06,488.21 614.62,493.15 616.49,497.92 C618.37,502.69 619.56,508.31 619.56,512.22 C619.56,516.14 618.71,519.38 616.49,521.42 C614.28,523.47 610.02,523.98 606.27,524.49 C602.53,525.00 597.42,523.98 594.01,524.49 C590.61,525.00 588.56,526.36 585.84,527.55 C583.11,528.74 580.73,530.28 577.66,531.64 C574.60,533.00 571.19,534.37 567.44,535.73 C563.70,537.09 558.93,539.64 555.18,539.82 C551.43,539.99 547.52,538.28 544.96,536.75 C542.41,535.22 540.53,532.32 539.85,530.62 C539.17,528.92 542.41,527.55 540.87,526.53 C539.34,525.51 534.40,525.51 530.66,524.49 C526.91,523.47 521.63,522.27 518.39,520.40 C515.16,518.53 512.77,515.97 511.24,513.25 C509.71,510.52 508.69,507.63 509.20,504.05 Z" fill="url(#bg2)"/>
<g clip-path="url(#clip500_455)">
<g stroke="#3a2a22" stroke-width="0.55" stroke-linejoin="round">
<path d="M511.44,497.92 L524.52,488.52 L530.66,495.87 L540.06,496.69 L533.93,503.03 L530.66,509.16 L529.02,520.81 L519.42,519.99 L512.67,514.68 L509.40,506.09 Z" fill="#f82a20"/>
<path d="M560.29,485.66 L569.49,478.30 L583.79,474.21 L596.06,477.07 L602.60,485.66 L600.55,495.87 L596.06,508.55 L593.60,502.01 L596.06,489.74 L589.92,483.61 L579.71,482.79 L567.44,486.06 Z" fill="#f82a20"/>
<path d="M555.18,493.01 L561.31,489.74 L571.53,491.79 L578.89,497.10 L571.53,498.33 L561.31,496.28 Z" fill="#f82a20"/>
<path d="M602.19,489.74 L610.36,493.83 L613.63,504.05 L616.90,514.27 L614.86,520.81 L608.32,521.83 L606.27,512.22 L600.14,504.05 Z" fill="#f82a20"/>
<path d="M585.84,469.31 L591.15,468.08 L593.19,474.42 L587.88,476.66 Z" fill="#f4ee12"/>
</g>
<path d="M524.5,479.5 L530.7,485.7 L526.6,488.5 M536.8,471.3 L542.9,479.5 L540.9,489.7 L547.0,493.8 L549.0,496.9 M549.0,467.3 L551.1,477.5 L547.0,485.7 L540.9,489.7 M561.3,463.6 L555.2,473.4 L553.1,483.6 L560.3,485.7 M551.1,477.5 L555.2,473.4 M569.5,478.3 L570.5,471.3 L579.7,464.2 M578.9,497.1 L585.8,502.0 L593.6,502.0 M583.8,506.1 L592.0,510.2 L596.1,508.5 M581.7,514.3 L592.0,516.3 L606.3,512.2 M578.7,524.5 L585.8,527.6 M577.7,531.6 L581.7,522.4 L592.0,516.3 M594.0,524.5 L598.1,516.3 M530.7,485.7 L540.1,496.7" fill="none" stroke="#2e2e2e" stroke-width="0.55" stroke-linejoin="round" opacity="0.85"/>
<path d="M530.66,509.16 C531.51,506.94 533.72,503.03 536.79,500.98 C539.85,498.94 544.28,497.75 549.05,496.90 C553.82,496.05 560.46,495.53 565.40,495.87 C570.34,496.22 575.62,497.24 578.68,498.94 C581.75,500.64 583.28,503.54 583.79,506.09 C584.30,508.65 582.60,511.20 581.75,514.27 C580.90,517.33 580.73,521.59 578.68,524.49 C576.64,527.38 573.06,529.77 569.49,531.64 C565.91,533.51 560.80,535.39 557.22,535.73 C553.65,536.07 550.24,535.22 548.03,533.68 C545.81,532.15 544.28,528.74 543.94,526.53 C543.60,524.32 547.18,521.93 545.98,520.40 C544.79,518.87 539.17,518.36 536.79,517.33 C534.40,516.31 532.70,515.63 531.68,514.27 C530.66,512.91 529.80,511.37 530.66,509.16 Z" fill="#222"/>
<path d="M509.20,504.05 C509.71,500.47 511.75,495.87 514.31,491.79 C516.86,487.70 520.10,483.27 524.52,479.52 C528.95,475.78 534.74,471.96 540.87,469.31 C547.01,466.65 554.84,464.44 561.31,463.58 C567.78,462.73 574.26,463.07 579.71,464.20 C585.16,465.32 589.24,467.09 594.01,470.33 C598.78,473.56 604.57,479.01 608.32,483.61 C612.06,488.21 614.62,493.15 616.49,497.92 C618.37,502.69 619.56,508.31 619.56,512.22 C619.56,516.14 618.71,519.38 616.49,521.42 C614.28,523.47 610.02,523.98 606.27,524.49 C602.53,525.00 597.42,523.98 594.01,524.49 C590.61,525.00 588.56,526.36 585.84,527.55 C583.11,528.74 580.73,530.28 577.66,531.64 C574.60,533.00 571.19,534.37 567.44,535.73 C563.70,537.09 558.93,539.64 555.18,539.82 C551.43,539.99 547.52,538.28 544.96,536.75 C542.41,535.22 540.53,532.32 539.85,530.62 C539.17,528.92 542.41,527.55 540.87,526.53 C539.34,525.51 534.40,525.51 530.66,524.49 C526.91,523.47 521.63,522.27 518.39,520.40 C515.16,518.53 512.77,515.97 511.24,513.25 C509.71,510.52 508.69,507.63 509.20,504.05 Z" fill="url(#shade)" stroke="#000" stroke-opacity="0.3" stroke-width="1.4"/>
</g>
<rect x="629.5" y="412.3" width="12.9" height="17.8" fill="#ffff00"/>
<rect x="629.5" y="429.8" width="12.9" height="22.8" fill="#ffc800"/>
<rect x="629.5" y="452.3" width="12.9" height="23.0" fill="#ff6600"/>
<rect x="629.5" y="475.0" width="12.9" height="23.5" fill="#fb0000"/>
<rect x="629.5" y="498.2" width="12.9" height="16.3" fill="#b40000"/>
<text x="648.00" y="421.20" font-size="13.6" font-weight="normal" text-anchor="start" fill="#000">6</text>
<text x="648.20" y="519.40" font-size="13.6" font-weight="normal" text-anchor="start" fill="#000">0</text>
</svg>
</body></html>
